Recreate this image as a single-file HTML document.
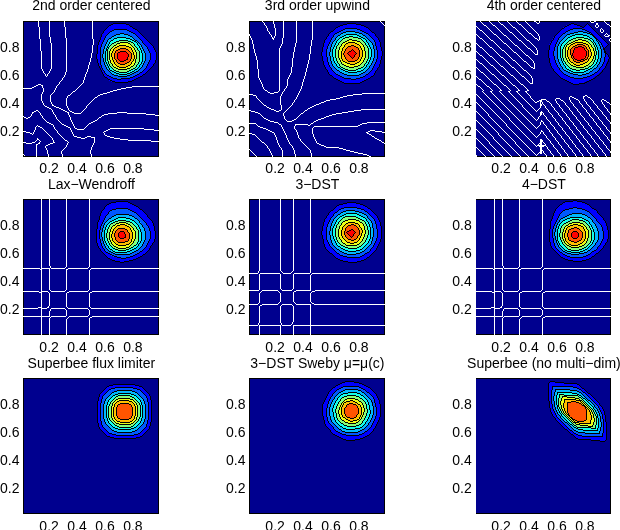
<!DOCTYPE html>
<html><head><meta charset="utf-8"><title>Advection schemes</title>
<style>
html,body{margin:0;padding:0;background:#fff;}
body{width:620px;height:530px;overflow:hidden;}
svg{display:block;}
text{font-family:"Liberation Sans",sans-serif;font-size:14.0px;fill:#000;}
</style></head>
<body>
<svg width="620" height="530" viewBox="0 0 620 530">
<defs><filter id="gray" filterUnits="userSpaceOnUse" x="0" y="0" width="620" height="530"><feOffset dx="0" dy="0"/></filter><clipPath id="clip0"><rect x="-0.5" y="-0.5" width="136" height="136"/></clipPath><clipPath id="clip1"><rect x="-0.5" y="-0.5" width="136" height="136"/></clipPath><clipPath id="clip2"><rect x="-0.5" y="-0.5" width="135" height="136"/></clipPath></defs>
<rect width="620" height="530" fill="#fff"/>
<g transform="translate(23.5,21.5)">
<rect x="0" y="0" width="135" height="135" fill="#00008f"/>
<g clip-path="url(#clip0)" shape-rendering="crispEdges">
<path d="M96.5,1.5 L101.0,2.1 L105.3,3.4 L109.3,5.6 L112.9,8.3 L116.2,11.3 L119.5,14.5 L122.7,17.6 L125.8,20.8 L128.7,24.3 L131.0,28.2 L132.6,32.4 L132.9,36.9 L131.5,41.2 L128.8,44.8 L125.8,48.2 L122.5,51.3 L119.0,54.0 L115.1,56.4 L111.0,58.3 L106.7,59.7 L102.3,60.5 L97.8,61.0 L93.2,61.1 L88.8,60.4 L84.7,58.5 L81.5,55.3 L79.0,51.5 L77.0,47.5 L75.1,43.4 L73.9,39.0 L73.5,34.5 L73.8,30.0 L74.4,25.6 L75.3,21.2 L76.6,16.8 L78.4,12.7 L80.9,8.9 L83.9,5.6 L87.6,3.0 L91.9,1.7Z" fill="#0000ff"/>
<path d="M98.0,8.0 L102.6,8.4 L106.8,9.7 L110.6,12.0 L114.0,15.0 L117.2,18.2 L120.1,21.6 L123.0,25.1 L125.2,28.9 L126.7,33.2 L126.9,37.7 L125.4,41.9 L123.0,45.7 L119.9,49.0 L116.4,51.8 L112.5,54.1 L108.4,55.9 L104.1,57.0 L99.6,57.4 L95.1,57.6 L90.6,57.0 L86.5,55.3 L82.9,52.6 L80.2,49.0 L78.1,45.0 L76.9,40.7 L76.5,36.2 L76.6,31.7 L77.2,27.3 L78.2,22.9 L79.8,18.7 L82.2,14.9 L85.3,11.6 L89.0,9.3 L93.4,8.2Z" fill="#0058ff"/>
<path d="M120.5,28.4 L118.0,24.2 L114.9,20.7 L111.5,17.6 L107.6,15.0 L103.1,13.2 L98.3,12.5 L93.5,13.2 L89.1,15.2 L85.5,18.2 L82.7,21.9 L80.8,26.0 L79.8,30.3 L79.5,34.5 L79.8,38.7 L80.9,42.8 L82.8,46.7 L85.6,50.0 L89.1,52.6 L93.1,54.2 L97.4,55.0 L101.7,54.8 L106.0,53.9 L110.0,52.2 L113.8,49.8 L117.3,46.6 L120.0,42.7 L121.7,38.0 L121.9,33.1Z" fill="#00b8ff"/>
<path d="M117.9,29.2 L115.6,25.0 L112.6,21.5 L109.0,18.6 L104.8,16.5 L100.2,15.6 L95.5,15.9 L91.2,17.5 L87.4,20.2 L84.6,23.6 L82.6,27.6 L81.7,31.8 L81.5,36.0 L82.2,40.2 L83.8,44.2 L86.3,47.6 L89.7,50.4 L93.6,52.2 L97.9,53.0 L102.2,52.8 L106.4,51.6 L110.4,49.6 L113.9,46.7 L116.7,43.0 L118.5,38.6 L119.0,33.8Z" fill="#14ffeb"/>
<path d="M115.6,29.9 L113.4,25.7 L110.2,22.3 L106.3,19.9 L101.9,18.7 L97.4,18.6 L93.1,19.8 L89.4,22.1 L86.4,25.3 L84.5,29.1 L83.6,33.3 L83.7,37.5 L84.9,41.6 L87.1,45.2 L90.2,48.2 L94.1,50.1 L98.3,51.0 L102.7,50.7 L106.9,49.3 L110.7,46.9 L113.8,43.5 L115.8,39.2 L116.5,34.5Z" fill="#87ff78"/>
<path d="M112.8,30.7 L110.6,26.6 L107.1,23.4 L102.9,21.5 L98.3,21.0 L93.8,22.1 L90.0,24.6 L87.2,28.1 L85.7,32.4 L85.6,36.8 L86.9,41.1 L89.6,44.6 L93.2,47.2 L97.5,48.4 L101.9,48.3 L106.2,46.8 L109.8,44.0 L112.4,40.1 L113.5,35.4Z" fill="#ebff14"/>
<path d="M110.4,31.5 L108.1,27.5 L104.4,24.7 L100.1,23.5 L95.6,24.1 L91.8,26.3 L89.2,29.8 L88.0,34.0 L88.5,38.2 L90.5,42.0 L93.9,44.7 L98.0,45.9 L102.3,45.6 L106.3,43.8 L109.4,40.5 L110.9,36.1Z" fill="#ffbf00"/>
<path d="M107.6,32.4 L104.9,28.6 L100.9,26.7 L96.5,27.0 L93.0,29.4 L91.2,33.2 L91.4,37.4 L93.6,40.9 L97.2,42.8 L101.4,42.8 L105.2,40.8 L107.7,37.0Z" fill="#ff5500"/>
<path d="M104.5,33.3 L101.6,30.1 L97.4,29.8 L94.1,32.4 L93.8,36.6 L96.6,39.5 L100.5,39.8 L103.9,37.6Z" fill="#ff0000"/>









</g>
<rect x="0" y="0" width="135" height="135" fill="none" stroke="#000" stroke-width="1" shape-rendering="crispEdges"/>
</g>
<path transform="translate(23,21.5)" d="M90 2h13M88 3h2M103 3h3M86 4h2M106 4h1M85 5h1M107 5h2M84 6h1M109 6h1M83 7h1M110 7h2M82 8h1M91 8h13M112 8h2M81 9h1M89 9h2M104 9h2M114 9h1M80 10h1M87 10h2M106 10h2M115 10h1M80 11h1M86 11h1M108 11h2M116 11h1M79 12h1M85 12h1M97 12h4M110 12h2M117 12h1M78 13h1M84 13h1M93 13h4M101 13h4M112 13h1M118 13h1M78 14h1M83 14h1M91 14h2M105 14h2M113 14h1M119 14h1M78 15h1M82 15h1M89 15h2M107 15h2M114 15h1M120 15h1M77 16h1M82 16h1M88 16h1M94 16h9M109 16h1M115 16h1M121 16h1M77 17h1M81 17h1M86 17h2M91 17h3M103 17h4M110 17h1M116 17h1M122 17h1M77 18h1M81 18h1M85 18h1M90 18h1M107 18h2M111 18h1M117 18h1M123 18h1M76 19h1M80 19h1M84 19h1M88 19h2M96 19h9M109 19h2M112 19h2M118 19h1M124 19h1M76 20h1M80 20h1M84 20h1M87 20h1M93 20h3M105 20h3M111 20h2M114 20h1M119 20h1M125 20h1M75 21h1M79 21h1M83 21h1M86 21h1M91 21h2M97 21h8M108 21h2M113 21h1M115 21h1M119 21h1M126 21h1M75 22h1M79 22h1M83 22h1M86 22h1M89 22h2M94 22h3M105 22h2M110 22h1M114 22h1M116 22h1M120 22h1M127 22h1M75 23h1M78 23h1M82 23h1M85 23h1M88 23h1M93 23h1M107 23h1M111 23h1M114 23h1M117 23h1M121 23h1M128 23h1M74 24h1M78 24h1M82 24h1M85 24h1M87 24h1M91 24h2M96 24h7M108 24h1M111 24h1M115 24h1M118 24h1M122 24h1M129 24h1M74 25h1M78 25h1M81 25h1M84 25h1M86 25h1M90 25h1M94 25h2M103 25h3M109 25h1M112 25h1M116 25h1M118 25h1M123 25h1M130 25h1M74 26h1M77 26h1M81 26h1M84 26h2M89 26h1M92 26h2M106 26h2M110 26h1M113 26h1M116 26h1M119 26h1M124 26h1M130 26h1M74 27h1M77 27h1M81 27h1M83 27h1M85 27h1M88 27h1M91 27h1M97 27h6M108 27h1M111 27h1M114 27h1M117 27h1M119 27h1M124 27h1M131 27h1M74 28h1M77 28h1M80 28h1M83 28h2M87 28h1M90 28h1M95 28h2M103 28h2M108 28h1M111 28h1M114 28h1M117 28h1M120 28h1M125 28h1M131 28h1M74 29h1M77 29h1M80 29h1M83 29h2M87 29h1M90 29h1M93 29h2M105 29h1M109 29h1M112 29h1M115 29h1M118 29h1M120 29h1M125 29h1M132 29h1M74 30h1M77 30h1M80 30h1M82 30h1M84 30h1M86 30h1M89 30h1M92 30h1M97 30h6M106 30h1M109 30h1M112 30h1M116 30h1M118 30h1M121 30h1M126 30h1M132 30h1M74 31h1M77 31h1M80 31h1M82 31h1M84 31h1M86 31h1M89 31h1M92 31h1M95 31h2M103 31h1M107 31h1M110 31h1M113 31h1M116 31h1M118 31h1M121 31h1M126 31h1M133 31h1M74 32h1M77 32h1M80 32h1M82 32h1M84 32h1M86 32h1M88 32h1M91 32h1M94 32h1M104 32h1M108 32h1M110 32h1M113 32h1M116 32h1M119 32h1M122 32h1M127 32h1M133 32h1M73 33h1M77 33h1M79 33h1M82 33h1M84 33h1M86 33h1M88 33h1M91 33h1M94 33h1M105 33h1M108 33h1M110 33h1M113 33h1M116 33h1M119 33h1M122 33h1M127 33h1M133 33h1M73 34h1M77 34h1M79 34h1M82 34h1M84 34h1M86 34h1M88 34h1M91 34h1M94 34h1M105 34h1M108 34h1M111 34h1M113 34h1M116 34h1M119 34h1M122 34h1M127 34h1M133 34h1M73 35h1M77 35h1M79 35h1M82 35h1M84 35h1M86 35h1M88 35h1M91 35h1M94 35h1M105 35h1M108 35h1M111 35h1M113 35h1M116 35h1M119 35h1M122 35h1M127 35h1M133 35h1M73 36h1M77 36h1M79 36h1M82 36h1M84 36h1M86 36h1M89 36h1M91 36h1M94 36h1M104 36h1M108 36h1M111 36h1M113 36h1M116 36h1M119 36h1M122 36h1M127 36h1M133 36h1M73 37h1M77 37h1M80 37h1M82 37h1M84 37h1M86 37h1M89 37h1M91 37h1M94 37h1M104 37h1M108 37h1M111 37h1M113 37h1M116 37h1M119 37h1M122 37h1M127 37h1M133 37h1M74 38h1M77 38h1M80 38h1M82 38h1M84 38h1M86 38h1M89 38h1M92 38h1M95 38h1M103 38h2M107 38h1M110 38h1M112 38h1M116 38h1M119 38h1M122 38h1M127 38h1M133 38h1M74 39h1M77 39h1M80 39h1M82 39h1M84 39h1M87 39h1M90 39h1M93 39h1M96 39h1M101 39h2M107 39h1M110 39h1M112 39h1M116 39h1M119 39h1M122 39h1M126 39h1M132 39h1M74 40h1M77 40h1M80 40h1M82 40h1M85 40h1M87 40h1M90 40h1M93 40h1M97 40h4M106 40h1M109 40h1M112 40h1M116 40h1M119 40h1M121 40h1M126 40h1M132 40h1M74 41h1M77 41h1M81 41h1M83 41h1M85 41h1M87 41h1M91 41h1M94 41h1M104 41h2M108 41h1M112 41h1M115 41h1M118 41h1M121 41h1M125 41h1M132 41h1M75 42h1M77 42h1M81 42h1M83 42h1M85 42h1M88 42h1M91 42h1M95 42h2M102 42h2M108 42h1M111 42h1M115 42h1M118 42h1M120 42h1M125 42h1M131 42h1M75 43h1M77 43h1M81 43h1M84 43h1M86 43h1M89 43h1M92 43h1M97 43h5M107 43h1M111 43h1M114 43h1M117 43h1M120 43h1M124 43h1M130 43h1M75 44h1M78 44h1M82 44h1M84 44h1M86 44h1M89 44h1M93 44h1M105 44h2M110 44h1M113 44h1M116 44h1M119 44h1M124 44h1M130 44h1M76 45h1M78 45h1M82 45h1M85 45h1M87 45h1M90 45h1M94 45h2M103 45h2M108 45h2M113 45h1M116 45h1M119 45h1M123 45h1M129 45h1M76 46h1M78 46h1M83 46h1M85 46h1M88 46h1M91 46h2M96 46h7M107 46h1M112 46h1M115 46h1M118 46h1M123 46h1M128 46h1M77 47h1M79 47h1M83 47h1M86 47h1M89 47h1M93 47h2M104 47h3M110 47h2M114 47h1M117 47h1M122 47h1M127 47h1M77 48h1M79 48h1M84 48h1M86 48h1M90 48h1M95 48h9M108 48h2M112 48h2M116 48h1M121 48h1M126 48h1M78 49h1M80 49h1M85 49h1M87 49h2M91 49h2M106 49h2M111 49h1M115 49h1M120 49h1M125 49h1M78 50h1M81 50h1M86 50h1M89 50h2M93 50h3M104 50h2M109 50h2M113 50h2M119 50h1M124 50h1M79 51h1M81 51h1M87 51h1M91 51h2M96 51h8M107 51h2M111 51h2M117 51h2M123 51h1M79 52h1M82 52h1M88 52h1M93 52h3M104 52h3M109 52h2M116 52h1M122 52h1M80 53h1M83 53h1M89 53h2M96 53h8M107 53h2M114 53h2M120 53h2M80 54h1M84 54h2M91 54h4M104 54h3M112 54h2M119 54h1M81 55h1M86 55h2M95 55h9M110 55h2M117 55h2M82 56h2M88 56h2M107 56h3M115 56h2M84 57h1M90 57h4M98 57h9M113 57h2M85 58h2M94 58h4M111 58h2M87 59h2M109 59h2M89 60h3M105 60h4M92 61h13" fill="none" stroke="#000" stroke-width="1" shape-rendering="crispEdges"/>
<path transform="translate(23,21.5)" d="M15 0h1M26 0h1M41 0h1M69 0h1M15 1h1M26 1h1M41 1h1M69 1h1M15 2h1M26 2h1M41 2h1M69 2h1M15 3h1M26 3h1M41 3h1M69 3h1M15 4h1M26 4h1M41 4h1M69 4h1M15 5h1M26 5h1M41 5h1M69 5h1M16 6h1M26 6h1M42 6h1M69 6h1M16 7h1M26 7h1M42 7h1M69 7h1M16 8h1M26 8h1M42 8h1M69 8h1M16 9h1M26 9h1M42 9h1M69 9h1M16 10h1M26 10h1M42 10h1M69 10h1M16 11h1M26 11h1M42 11h1M69 11h1M16 12h1M26 12h1M42 12h1M69 12h1M16 13h1M26 13h1M42 13h1M69 13h1M16 14h1M26 14h1M42 14h1M69 14h1M16 15h1M26 15h1M42 15h1M69 15h1M16 16h1M27 16h1M42 16h1M69 16h1M16 17h1M27 17h1M43 17h1M69 17h1M17 18h1M27 18h1M43 18h1M70 18h1M17 19h1M27 19h1M43 19h1M70 19h1M17 20h1M27 20h1M43 20h1M70 20h1M17 21h1M27 21h1M43 21h1M70 21h1M17 22h1M28 22h1M43 22h1M70 22h1M17 23h1M28 23h1M43 23h1M70 23h1M17 24h1M28 24h1M43 24h1M69 24h1M17 25h1M28 25h1M43 25h1M69 25h1M17 26h1M28 26h1M43 26h1M69 26h1M17 27h1M28 27h1M43 27h1M69 27h1M17 28h1M28 28h1M43 28h1M69 28h1M17 29h1M28 29h1M43 29h1M69 29h1M18 30h1M28 30h1M43 30h1M69 30h1M18 31h1M28 31h1M43 31h1M69 31h1M18 32h1M28 32h1M43 32h1M68 32h1M18 33h1M28 33h1M43 33h1M68 33h1M18 34h1M28 34h1M43 34h1M68 34h1M18 35h1M28 35h1M43 35h1M68 35h1M18 36h1M28 36h1M43 36h1M68 36h1M18 37h1M28 37h1M43 37h1M67 37h1M18 38h1M28 38h1M43 38h1M67 38h1M18 39h1M28 39h1M43 39h1M67 39h1M18 40h1M28 40h1M43 40h1M67 40h1M18 41h1M28 41h1M43 41h1M66 41h1M18 42h1M28 42h1M43 42h1M66 42h1M18 43h1M28 43h1M43 43h1M66 43h1M18 44h1M28 44h1M43 44h1M65 44h1M18 45h1M28 45h1M43 45h1M65 45h1M18 46h1M28 46h1M43 46h1M65 46h1M18 47h1M28 47h1M43 47h1M65 47h1M19 48h1M27 48h1M43 48h1M64 48h1M19 49h1M27 49h1M43 49h1M64 49h1M20 50h1M26 50h1M43 50h1M64 50h1M20 51h1M26 51h1M42 51h1M63 51h1M21 52h1M25 52h1M42 52h1M63 52h1M22 53h1M24 53h1M42 53h1M62 53h1M22 54h1M24 54h1M41 54h1M62 54h1M23 55h1M41 55h1M62 55h1M40 56h1M61 56h1M39 57h1M61 57h1M39 58h1M61 58h1M38 59h1M60 59h1M37 60h1M60 60h1M36 61h1M60 61h1M36 62h1M59 62h1M15 63h3M35 63h1M58 63h1M13 64h2M18 64h2M34 64h1M57 64h1M11 65h2M19 65h1M33 65h1M56 65h1M109 65h27M9 66h2M19 66h1M33 66h1M55 66h1M103 66h6M0 67h9M20 67h1M32 67h1M54 67h1M98 67h5M20 68h1M32 68h1M53 68h1M94 68h4M20 69h1M31 69h1M52 69h1M90 69h4M20 70h1M31 70h1M50 70h2M87 70h3M19 71h1M30 71h1M49 71h1M84 71h3M19 72h1M29 72h1M48 72h1M80 72h4M18 73h1M28 73h1M47 73h1M77 73h3M18 74h1M27 74h1M45 74h2M75 74h2M18 75h1M27 75h1M44 75h1M74 75h1M18 76h1M27 76h1M44 76h1M72 76h2M18 77h1M27 77h1M43 77h1M71 77h1M18 78h1M27 78h1M43 78h1M70 78h1M18 79h1M27 79h1M43 79h1M69 79h1M19 80h1M27 80h1M43 80h1M68 80h1M19 81h1M28 81h1M43 81h1M67 81h1M20 82h1M28 82h1M43 82h1M66 82h1M20 83h1M29 83h1M43 83h1M65 83h1M21 84h1M29 84h2M43 84h1M64 84h1M22 85h2M31 85h2M44 85h1M63 85h1M24 86h2M33 86h3M44 86h1M63 86h1M26 87h2M36 87h2M45 87h1M62 87h1M28 88h1M38 88h2M45 88h1M61 88h1M13 89h2M29 89h1M40 89h2M46 89h1M60 89h1M11 90h2M15 90h1M29 90h1M42 90h2M47 90h2M59 90h1M9 91h2M16 91h1M30 91h1M44 91h2M49 91h2M58 91h1M94 91h10M9 92h1M17 92h1M30 92h1M45 92h1M51 92h7M85 92h9M104 92h19M8 93h1M17 93h1M31 93h1M45 93h1M81 93h4M123 93h9M8 94h1M18 94h1M32 94h1M46 94h1M79 94h2M132 94h4M0 95h1M7 95h1M19 95h1M32 95h1M46 95h1M78 95h1M1 96h2M5 96h2M19 96h1M33 96h1M47 96h1M76 96h2M3 97h2M20 97h1M33 97h1M47 97h1M75 97h1M21 98h1M34 98h1M47 98h1M74 98h1M22 99h1M35 99h1M48 99h1M72 99h2M23 100h1M36 100h1M48 100h1M70 100h2M24 101h2M37 101h1M49 101h1M68 101h2M26 102h2M38 102h1M49 102h1M66 102h2M28 103h2M39 103h2M50 103h1M65 103h1M14 104h1M30 104h1M41 104h2M50 104h1M64 104h1M13 105h1M15 105h2M30 105h1M43 105h2M51 105h1M63 105h1M12 106h1M17 106h2M31 106h1M45 106h2M51 106h1M62 106h1M12 107h1M19 107h1M31 107h1M47 107h1M52 107h2M61 107h1M87 107h34M12 108h1M20 108h1M32 108h1M47 108h1M54 108h7M85 108h2M121 108h10M11 109h1M21 109h1M33 109h1M48 109h1M83 109h2M131 109h5M0 110h3M11 110h1M22 110h1M34 110h1M48 110h1M81 110h2M3 111h4M10 111h1M23 111h1M34 111h1M49 111h1M80 111h1M7 112h2M10 112h1M24 112h1M35 112h1M49 112h1M81 112h1M9 113h1M25 113h1M36 113h1M50 113h1M81 113h1M26 114h1M37 114h1M50 114h1M82 114h2M27 115h1M38 115h1M51 115h3M64 115h4M84 115h3M28 116h1M39 116h1M54 116h4M62 116h2M68 116h4M87 116h4M14 117h1M29 117h1M40 117h1M58 117h4M71 117h1M91 117h6M14 118h2M29 118h1M41 118h1M71 118h1M97 118h8M13 119h1M16 119h1M30 119h1M42 119h2M71 119h1M105 119h23M12 120h1M17 120h1M30 120h1M44 120h1M71 120h1M128 120h8M0 121h3M9 121h3M16 121h1M30 121h2M45 121h1M71 121h1M3 122h6M15 122h2M27 122h3M44 122h1M70 122h1M13 123h2M25 123h2M44 123h1M70 123h1M13 124h1M23 124h2M43 124h1M69 124h1M13 125h1M22 125h1M43 125h1M69 125h1M13 126h1M22 126h1M42 126h1M68 126h1M13 127h1M23 127h1M41 127h1M68 127h1M13 128h1M23 128h1M40 128h1M68 128h1M13 129h1M24 129h1M39 129h1M67 129h1M13 130h1M24 130h1M38 130h1M67 130h1M13 131h1M24 131h1M38 131h1M67 131h1M13 132h1M24 132h1M38 132h1M67 132h1M0 133h1M13 133h1M25 133h1M39 133h1M68 133h1M1 134h1M13 134h1M25 134h1M39 134h1M68 134h1M13 135h1M25 135h1M39 135h1M68 135h1" fill="none" stroke="#fff" stroke-width="1" shape-rendering="crispEdges"/>
<g transform="translate(249.5,21.5)">
<rect x="0" y="0" width="135" height="135" fill="#00008f"/>
<g clip-path="url(#clip1)" shape-rendering="crispEdges">
<path d="M131.3,41.1 L129.6,45.3 L127.4,49.2 L124.5,52.7 L121.2,55.7 L117.5,58.3 L113.5,60.2 L109.2,61.6 L104.7,62.2 L100.2,62.2 L95.8,61.5 L91.5,60.2 L87.4,58.3 L83.7,55.7 L80.4,52.7 L77.6,49.1 L75.4,45.2 L73.7,41.0 L72.7,36.7 L72.4,32.2 L72.7,27.7 L73.7,23.3 L75.4,19.1 L77.6,15.2 L80.5,11.7 L83.8,8.7 L87.5,6.1 L91.5,4.2 L95.8,2.8 L100.3,2.2 L104.8,2.2 L109.2,2.9 L113.5,4.2 L117.6,6.1 L121.3,8.7 L124.6,11.7 L127.4,15.3 L129.6,19.2 L131.3,23.4 L132.3,27.7 L132.6,32.2 L132.3,36.7Z" fill="#0000ff"/>
<path d="M126.9,39.7 L125.2,43.9 L122.8,47.6 L119.8,50.9 L116.3,53.6 L112.4,55.7 L108.2,57.1 L103.8,57.7 L99.3,57.5 L95.0,56.6 L90.8,54.9 L87.1,52.5 L83.8,49.5 L81.1,46.0 L79.0,42.1 L77.6,37.9 L77.0,33.5 L77.2,29.0 L78.1,24.7 L79.8,20.5 L82.2,16.8 L85.2,13.5 L88.7,10.8 L92.6,8.7 L96.8,7.3 L101.2,6.7 L105.7,6.9 L110.0,7.8 L114.2,9.5 L117.9,11.9 L121.2,14.9 L123.9,18.4 L126.0,22.3 L127.4,26.5 L128.0,30.9 L127.8,35.4Z" fill="#0058ff"/>
<path d="M123.8,38.8 L122.0,42.9 L119.5,46.7 L116.2,49.8 L112.4,52.2 L108.2,53.8 L103.7,54.5 L99.2,54.3 L94.8,53.1 L90.8,51.2 L87.2,48.4 L84.2,45.0 L82.0,41.1 L80.7,36.8 L80.2,32.3 L80.6,27.8 L82.0,23.5 L84.1,19.5 L87.1,16.1 L90.6,13.3 L94.7,11.3 L99.0,10.2 L103.5,9.9 L108.0,10.6 L112.2,12.1 L116.1,14.5 L119.4,17.6 L122.0,21.3 L123.8,25.4 L124.7,29.9 L124.7,34.4Z" fill="#00b8ff"/>
<path d="M121.0,37.9 L119.2,42.1 L116.5,45.6 L113.0,48.5 L109.0,50.5 L104.6,51.5 L100.1,51.4 L95.7,50.4 L91.7,48.3 L88.3,45.4 L85.6,41.7 L83.9,37.6 L83.1,33.2 L83.4,28.7 L84.8,24.4 L87.0,20.5 L90.2,17.2 L94.0,14.8 L98.2,13.3 L102.7,12.8 L107.1,13.4 L111.4,14.9 L115.1,17.5 L118.2,20.8 L120.4,24.7 L121.6,29.0 L121.9,33.5Z" fill="#14ffeb"/>
<path d="M118.5,37.2 L116.6,41.3 L113.6,44.8 L109.8,47.3 L105.5,48.7 L100.9,48.9 L96.5,47.9 L92.4,45.7 L89.2,42.4 L86.9,38.5 L85.8,34.0 L85.9,29.5 L87.3,25.1 L89.8,21.3 L93.2,18.2 L97.3,16.2 L101.8,15.4 L106.4,15.8 L110.6,17.5 L114.3,20.2 L117.1,23.9 L118.8,28.1 L119.3,32.7Z" fill="#87ff78"/>
<path d="M115.7,36.3 L113.6,40.3 L110.4,43.5 L106.3,45.5 L101.8,46.0 L97.3,45.0 L93.5,42.6 L90.6,39.1 L89.0,34.9 L88.8,30.3 L90.2,26.0 L92.8,22.3 L96.6,19.7 L100.9,18.5 L105.5,18.7 L109.7,20.4 L113.1,23.4 L115.4,27.3 L116.3,31.8Z" fill="#ebff14"/>
<path d="M113.0,35.5 L110.8,39.4 L107.1,42.2 L102.7,43.2 L98.2,42.3 L94.4,39.7 L92.1,35.7 L91.5,31.2 L92.9,26.8 L95.9,23.4 L100.1,21.5 L104.6,21.4 L108.8,23.2 L111.9,26.6 L113.4,30.9Z" fill="#ffbf00"/>
<path d="M110.3,34.6 L107.8,38.5 L103.5,40.3 L99.0,39.6 L95.5,36.5 L94.3,32.1 L95.7,27.7 L99.2,24.7 L103.8,24.1 L108.0,26.1 L110.4,30.0Z" fill="#ff5500"/>
<path d="M98.3,32.2 L102.5,27.5 L107.1,32.0 L102.5,36.5Z" fill="#ff0000"/>













</g>
<rect x="0" y="0" width="135" height="135" fill="none" stroke="#000" stroke-width="1" shape-rendering="crispEdges"/>
</g>
<path transform="translate(249,21.5)" d="M98 2h9M94 3h4M107 3h5M91 4h3M112 4h3M89 5h2M115 5h2M87 6h2M117 6h2M86 7h1M96 7h12M119 7h1M85 8h1M94 8h2M108 8h3M120 8h1M84 9h1M92 9h2M111 9h2M121 9h1M82 10h2M90 10h2M97 10h9M113 10h2M122 10h1M81 11h1M88 11h2M94 11h3M106 11h4M115 11h2M123 11h2M80 12h1M86 12h2M92 12h2M110 12h3M117 12h2M125 12h1M79 13h1M85 13h1M91 13h1M97 13h11M113 13h1M119 13h1M126 13h1M79 14h1M84 14h1M89 14h2M95 14h2M108 14h2M114 14h2M120 14h1M126 14h1M78 15h1M84 15h1M88 15h1M93 15h2M100 15h4M110 15h2M116 15h1M121 15h1M127 15h1M77 16h1M83 16h1M87 16h1M91 16h2M96 16h4M104 16h5M112 16h2M117 16h1M122 16h1M128 16h1M77 17h1M82 17h1M86 17h1M90 17h1M94 17h2M109 17h3M114 17h2M118 17h1M123 17h1M129 17h1M76 18h1M82 18h1M86 18h1M89 18h1M93 18h1M100 18h3M112 18h1M116 18h1M119 18h1M124 18h1M129 18h1M75 19h1M81 19h1M85 19h1M88 19h1M92 19h1M98 19h2M103 19h5M113 19h1M117 19h1M120 19h1M125 19h1M130 19h1M75 20h1M81 20h1M84 20h1M87 20h1M91 20h1M96 20h2M108 20h3M114 20h1M117 20h1M121 20h1M125 20h1M130 20h1M75 21h1M80 21h1M83 21h1M87 21h1M90 21h1M94 21h2M99 21h7M111 21h1M115 21h1M118 21h1M122 21h1M126 21h1M131 21h1M74 22h1M80 22h1M83 22h1M86 22h1M89 22h1M93 22h1M97 22h2M106 22h2M112 22h1M116 22h1M119 22h1M123 22h1M126 22h1M131 22h1M74 23h1M79 23h1M82 23h1M86 23h1M89 23h1M92 23h1M96 23h1M108 23h2M113 23h1M116 23h1M119 23h1M123 23h1M126 23h1M131 23h1M74 24h1M79 24h1M82 24h1M85 24h1M88 24h1M92 24h1M95 24h1M102 24h3M110 24h1M114 24h1M117 24h1M120 24h1M124 24h1M126 24h1M131 24h1M74 25h1M78 25h1M82 25h1M85 25h1M87 25h1M91 25h1M95 25h1M99 25h3M105 25h2M111 25h1M114 25h1M118 25h1M120 25h1M124 25h1M127 25h1M131 25h1M73 26h1M78 26h1M81 26h1M84 26h1M87 26h1M90 26h1M94 26h1M98 26h1M107 26h2M111 26h1M115 26h1M118 26h1M121 26h1M124 26h1M127 26h1M132 26h1M73 27h1M78 27h1M81 27h1M84 27h1M87 27h1M90 27h1M93 27h1M97 27h1M109 27h1M112 27h1M115 27h1M119 27h1M121 27h1M124 27h1M127 27h1M132 27h1M73 28h1M77 28h1M81 28h1M83 28h1M86 28h1M90 28h1M93 28h1M96 28h1M103 28h1M109 28h1M112 28h1M115 28h1M119 28h1M122 28h1M125 28h1M127 28h1M132 28h1M73 29h1M77 29h1M81 29h1M83 29h1M86 29h1M89 29h1M93 29h1M96 29h1M102 29h1M104 29h1M110 29h1M113 29h1M115 29h1M119 29h1M122 29h1M125 29h1M128 29h1M132 29h1M73 30h1M77 30h1M81 30h1M83 30h1M86 30h1M89 30h1M92 30h1M95 30h1M100 30h2M105 30h1M110 30h1M113 30h1M116 30h1M119 30h1M122 30h1M125 30h1M128 30h1M133 30h1M72 31h1M77 31h1M80 31h1M83 31h1M86 31h1M89 31h1M92 31h1M95 31h1M99 31h1M106 31h1M110 31h1M113 31h1M116 31h1M119 31h1M122 31h1M125 31h1M128 31h1M133 31h1M72 32h1M77 32h1M80 32h1M83 32h1M86 32h1M89 32h1M92 32h1M94 32h1M98 32h1M107 32h1M110 32h1M113 32h1M116 32h1M119 32h1M122 32h1M125 32h1M128 32h1M133 32h1M72 33h1M77 33h1M80 33h1M83 33h1M86 33h1M89 33h1M92 33h1M94 33h1M99 33h1M106 33h1M110 33h1M113 33h1M116 33h1M119 33h1M122 33h1M125 33h1M128 33h1M133 33h1M72 34h1M77 34h1M80 34h1M83 34h1M86 34h1M89 34h1M92 34h1M95 34h1M100 34h1M105 34h1M110 34h1M113 34h1M116 34h1M119 34h1M122 34h1M125 34h1M128 34h1M133 34h1M73 35h1M77 35h1M81 35h1M83 35h1M86 35h1M89 35h1M92 35h1M95 35h1M101 35h1M105 35h1M110 35h1M113 35h1M116 35h1M119 35h1M122 35h1M125 35h1M128 35h1M132 35h1M73 36h1M78 36h1M81 36h1M84 36h1M86 36h1M89 36h1M92 36h1M96 36h1M102 36h1M104 36h1M109 36h1M112 36h1M116 36h1M119 36h1M121 36h1M125 36h1M128 36h1M132 36h1M73 37h1M78 37h1M81 37h1M84 37h1M87 37h1M90 37h1M92 37h1M96 37h1M103 37h1M109 37h1M112 37h1M115 37h1M119 37h1M121 37h1M124 37h1M128 37h1M132 37h1M73 38h1M78 38h1M81 38h1M84 38h1M87 38h1M90 38h1M93 38h1M97 38h1M108 38h1M111 38h1M115 38h1M118 38h1M121 38h1M124 38h1M127 38h1M132 38h1M73 39h1M78 39h1M81 39h1M84 39h1M87 39h1M91 39h1M93 39h1M98 39h1M106 39h2M111 39h1M114 39h1M118 39h1M120 39h1M124 39h1M127 39h1M131 39h1M74 40h1M78 40h1M82 40h1M85 40h1M88 40h1M91 40h1M94 40h2M99 40h7M110 40h1M114 40h1M117 40h1M120 40h1M123 40h1M127 40h1M131 40h1M74 41h1M79 41h1M82 41h1M85 41h1M88 41h1M92 41h1M96 41h2M108 41h2M113 41h1M117 41h1M119 41h1M123 41h1M126 41h1M131 41h1M74 42h1M79 42h1M82 42h1M86 42h1M89 42h1M92 42h1M98 42h3M106 42h2M112 42h1M116 42h1M119 42h1M122 42h1M126 42h1M131 42h1M74 43h1M79 43h1M83 43h1M87 43h1M90 43h1M93 43h2M101 43h5M111 43h1M115 43h1M118 43h1M122 43h1M125 43h1M130 43h1M75 44h1M80 44h1M83 44h1M87 44h1M90 44h1M95 44h2M109 44h2M115 44h1M117 44h1M121 44h1M125 44h1M130 44h1M75 45h1M80 45h1M84 45h1M88 45h1M91 45h1M97 45h3M105 45h4M114 45h1M117 45h1M120 45h1M124 45h1M130 45h1M76 46h1M81 46h1M85 46h1M89 46h2M92 46h2M100 46h5M112 46h2M116 46h1M120 46h1M124 46h1M129 46h1M76 47h1M82 47h1M86 47h1M91 47h1M94 47h2M109 47h3M115 47h1M119 47h1M123 47h1M128 47h1M77 48h1M82 48h1M87 48h1M92 48h2M96 48h3M107 48h2M114 48h1M118 48h1M123 48h1M128 48h1M78 49h1M83 49h1M88 49h2M94 49h2M99 49h8M112 49h2M117 49h1M122 49h1M127 49h1M78 50h1M84 50h1M90 50h1M96 50h3M108 50h4M116 50h1M121 50h1M126 50h1M79 51h1M85 51h1M91 51h2M99 51h9M114 51h2M120 51h1M126 51h1M79 52h1M86 52h1M93 52h2M112 52h2M119 52h1M125 52h1M80 53h1M87 53h2M95 53h3M110 53h2M117 53h2M125 53h1M81 54h2M89 54h2M98 54h12M116 54h1M124 54h1M83 55h1M91 55h2M114 55h2M122 55h2M84 56h1M93 56h2M111 56h3M121 56h1M85 57h2M95 57h7M107 57h4M119 57h2M87 58h2M102 58h5M117 58h2M89 59h2M115 59h2M91 60h2M113 60h2M93 61h2M111 61h2M95 62h16" fill="none" stroke="#000" stroke-width="1" shape-rendering="crispEdges"/>
<path transform="translate(249,21.5)" d="M13 0h1M24 0h1M34 0h1M47 0h1M63 0h1M131 0h1M14 1h1M24 1h1M34 1h1M47 1h1M63 1h1M132 1h1M15 2h1M24 2h1M34 2h1M47 2h1M63 2h1M133 2h1M15 3h1M25 3h1M34 3h1M47 3h1M63 3h1M134 3h1M16 4h1M25 4h1M34 4h1M47 4h1M63 4h1M135 4h1M17 5h1M25 5h1M34 5h1M47 5h1M63 5h1M17 6h1M25 6h1M34 6h1M47 6h1M63 6h1M18 7h1M26 7h1M34 7h1M47 7h1M63 7h1M18 8h1M26 8h1M34 8h1M47 8h1M63 8h1M18 9h1M26 9h1M34 9h1M47 9h1M63 9h1M19 10h1M26 10h1M34 10h1M47 10h1M63 10h1M20 11h1M26 11h1M34 11h1M47 11h1M63 11h1M20 12h1M26 12h1M34 12h1M47 12h1M63 12h1M0 13h1M21 13h1M26 13h1M34 13h1M47 13h1M63 13h1M0 14h1M22 14h1M26 14h1M34 14h1M47 14h1M63 14h1M1 15h1M22 15h1M25 15h1M34 15h1M47 15h1M63 15h1M1 16h1M23 16h1M25 16h1M34 16h1M47 16h1M63 16h1M2 17h1M23 17h2M33 17h1M47 17h1M63 17h1M2 18h1M24 18h1M33 18h1M47 18h1M63 18h1M3 19h1M33 19h1M47 19h1M62 19h1M3 20h1M33 20h1M47 20h1M62 20h1M3 21h1M33 21h1M47 21h1M62 21h1M3 22h1M33 22h1M46 22h1M62 22h1M4 23h1M32 23h1M46 23h1M62 23h1M4 24h1M32 24h1M46 24h1M62 24h1M4 25h1M31 25h1M46 25h1M61 25h1M4 26h1M31 26h1M45 26h1M61 26h1M4 27h1M30 27h1M45 27h1M61 27h1M5 28h1M30 28h1M45 28h1M61 28h1M5 29h1M30 29h1M45 29h1M61 29h1M5 30h1M30 30h1M45 30h1M61 30h1M5 31h1M30 31h1M44 31h1M61 31h1M6 32h1M30 32h1M44 32h1M61 32h1M6 33h1M30 33h1M44 33h1M60 33h1M6 34h1M30 34h1M44 34h1M60 34h1M7 35h1M30 35h1M44 35h1M60 35h1M7 36h1M30 36h1M44 36h1M60 36h1M7 37h1M30 37h1M43 37h1M60 37h1M7 38h1M30 38h1M43 38h1M60 38h1M8 39h1M30 39h1M43 39h1M59 39h1M8 40h1M30 40h1M43 40h1M59 40h1M8 41h1M30 41h1M43 41h1M59 41h1M8 42h1M30 42h1M43 42h1M59 42h1M8 43h1M30 43h1M43 43h1M58 43h1M8 44h1M30 44h1M43 44h1M58 44h1M8 45h1M30 45h1M43 45h1M58 45h1M8 46h1M30 46h1M42 46h1M58 46h1M8 47h1M30 47h1M42 47h1M57 47h1M9 48h1M30 48h1M42 48h1M57 48h1M9 49h1M30 49h1M42 49h1M57 49h1M9 50h1M30 50h1M42 50h1M57 50h1M9 51h1M30 51h1M42 51h1M56 51h1M9 52h1M30 52h1M41 52h1M56 52h1M9 53h1M30 53h1M41 53h1M56 53h1M9 54h1M30 54h1M40 54h1M56 54h1M9 55h1M30 55h1M40 55h1M55 55h1M9 56h1M30 56h1M39 56h1M55 56h1M10 57h1M30 57h1M39 57h1M55 57h1M10 58h1M30 58h1M38 58h1M54 58h1M11 59h1M30 59h1M38 59h1M54 59h1M11 60h1M30 60h1M38 60h1M54 60h1M12 61h1M30 61h1M38 61h1M53 61h1M12 62h1M30 62h1M38 62h1M53 62h1M13 63h1M30 63h1M38 63h1M53 63h1M13 64h1M30 64h1M38 64h1M53 64h1M13 65h1M30 65h1M37 65h1M52 65h1M14 66h1M30 66h1M37 66h1M52 66h1M14 67h1M30 67h1M36 67h1M52 67h1M15 68h1M30 68h1M35 68h1M51 68h1M16 69h2M30 69h1M35 69h1M51 69h1M18 70h1M29 70h1M34 70h1M50 70h1M19 71h2M25 71h4M33 71h1M50 71h1M21 72h4M33 72h1M49 72h1M113 72h23M0 73h4M32 73h1M49 73h1M104 73h9M4 74h3M32 74h1M48 74h1M98 74h6M7 75h1M31 75h1M48 75h1M94 75h4M7 76h1M31 76h1M47 76h1M91 76h3M8 77h1M31 77h1M47 77h1M87 77h4M9 78h1M31 78h1M46 78h1M81 78h6M10 79h1M31 79h1M45 79h1M77 79h4M11 80h1M31 80h1M45 80h1M75 80h2M12 81h1M31 81h1M44 81h1M72 81h3M13 82h1M31 82h1M43 82h1M70 82h2M14 83h1M31 83h1M43 83h1M67 83h3M15 84h2M32 84h1M42 84h1M65 84h2M17 85h1M32 85h1M41 85h1M63 85h2M18 86h2M32 86h1M40 86h1M61 86h2M20 87h2M32 87h1M39 87h1M59 87h2M22 88h3M32 88h1M38 88h1M58 88h1M112 88h24M0 89h2M25 89h2M30 89h2M37 89h1M56 89h2M105 89h7M2 90h4M27 90h3M36 90h1M55 90h1M99 90h6M6 91h3M35 91h1M54 91h1M93 91h6M9 92h2M34 92h1M52 92h2M87 92h6M11 93h1M34 93h1M51 93h1M83 93h4M12 94h1M34 94h1M50 94h1M80 94h3M13 95h1M35 95h1M49 95h1M77 95h3M14 96h1M35 96h1M48 96h1M75 96h2M15 97h2M35 97h1M47 97h1M72 97h3M17 98h2M36 98h1M45 98h2M69 98h3M19 99h2M37 99h1M43 99h2M67 99h2M21 100h4M38 100h5M65 100h2M25 101h4M64 101h1M118 101h18M0 102h7M29 102h1M62 102h2M113 102h5M7 103h1M30 103h2M46 103h13M61 103h1M111 103h2M8 104h1M32 104h1M46 104h1M59 104h2M109 104h2M9 105h2M32 105h1M45 105h1M65 105h44M11 106h3M33 106h1M45 106h1M64 106h1M14 107h3M33 107h1M45 107h1M63 107h1M17 108h2M34 108h1M46 108h1M63 108h1M19 109h2M34 109h1M47 109h1M63 109h1M121 109h5M21 110h2M35 110h1M47 110h1M63 110h1M119 110h2M126 110h7M23 111h2M35 111h1M48 111h1M63 111h1M117 111h2M133 111h3M0 112h3M25 112h1M36 112h1M48 112h1M63 112h1M118 112h2M3 113h3M25 113h1M36 113h1M48 113h1M64 113h1M120 113h2M6 114h1M26 114h1M37 114h1M49 114h1M64 114h1M122 114h1M7 115h1M26 115h1M37 115h1M49 115h1M64 115h1M123 115h2M8 116h1M27 116h1M37 116h1M49 116h1M65 116h1M125 116h1M9 117h1M27 117h1M38 117h1M50 117h1M65 117h1M126 117h2M10 118h1M27 118h1M38 118h1M51 118h1M66 118h1M128 118h2M11 119h1M28 119h1M39 119h1M51 119h1M66 119h1M130 119h2M12 120h1M28 120h1M39 120h1M52 120h1M67 120h1M132 120h1M13 121h2M28 121h1M40 121h1M53 121h1M67 121h1M133 121h2M15 122h1M29 122h1M40 122h1M54 122h1M68 122h2M135 122h1M16 123h1M29 123h1M41 123h1M55 123h1M70 123h2M17 124h1M30 124h1M42 124h1M56 124h1M72 124h3M18 125h1M30 125h1M43 125h1M57 125h1M75 125h2M18 126h1M31 126h1M43 126h1M58 126h1M77 126h13M19 127h1M32 127h1M44 127h1M59 127h1M90 127h4M0 128h1M20 128h1M32 128h1M44 128h1M60 128h1M94 128h3M1 129h1M20 129h1M33 129h1M45 129h1M61 129h1M97 129h4M2 130h1M21 130h1M33 130h1M45 130h1M61 130h1M101 130h4M3 131h1M21 131h1M33 131h1M45 131h1M61 131h1M105 131h4M4 132h1M22 132h1M33 132h1M45 132h1M62 132h1M109 132h5M5 133h1M22 133h1M33 133h1M46 133h1M62 133h1M114 133h4M6 134h1M23 134h1M33 134h1M46 134h1M62 134h1M118 134h2M7 135h1M23 135h1M33 135h1M46 135h1M62 135h1M120 135h2" fill="none" stroke="#fff" stroke-width="1" shape-rendering="crispEdges"/>
<g transform="translate(476.5,21.5)">
<rect x="-0.5" y="0" width="134.5" height="135" fill="#00008f"/>
<g clip-path="url(#clip2)" shape-rendering="crispEdges">























<path d="M73.5,21.5 L78.5,13.5 L84.5,7.5 L90.5,3.5 L95.5,2.0 L101.5,3.8 L106.7,5.6 L110.7,2.2 L120.5,12.0 L131.5,23.0 L127.2,27.5 L133.0,35.5 L131.5,38.5 L128.5,45.5 L123.5,51.5 L115.5,57.5 L106.5,61.5 L97.5,62.5 L90.5,60.0 L83.5,55.5 L78.5,50.5 L74.5,45.5 L72.5,39.5 L72.0,31.5 L72.5,24.5Z" fill="#0000ff"/>
<path d="M126.3,24.4 L123.7,20.7 L120.7,17.6 L117.7,14.8 L114.5,12.2 L111.0,9.9 L107.1,8.0 L102.9,6.9 L98.4,6.9 L94.0,8.0 L89.9,9.9 L86.3,12.6 L83.2,15.8 L80.6,19.5 L78.7,23.6 L77.5,28.0 L77.2,32.5 L77.7,37.0 L79.0,41.3 L81.1,45.4 L83.9,49.0 L87.3,52.0 L91.1,54.5 L95.4,56.2 L99.9,57.1 L104.4,57.1 L108.9,56.4 L113.3,54.9 L117.3,52.7 L121.0,49.9 L124.2,46.5 L126.7,42.5 L128.4,38.0 L128.9,33.3 L128.1,28.6Z" fill="#0058ff"/>
<path d="M124.3,25.0 L122.2,20.8 L119.4,17.3 L116.0,14.4 L112.1,12.3 L108.0,11.0 L103.7,10.4 L99.4,10.6 L95.2,11.6 L91.2,13.4 L87.7,16.0 L84.7,19.2 L82.4,23.0 L81.0,27.2 L80.5,31.6 L80.9,36.0 L82.2,40.3 L84.4,44.2 L87.3,47.6 L90.8,50.3 L94.8,52.3 L99.1,53.4 L103.5,53.7 L108.0,53.1 L112.2,51.7 L116.1,49.4 L119.6,46.5 L122.3,42.8 L124.3,38.6 L125.4,34.1 L125.4,29.5Z" fill="#00b8ff"/>
<path d="M121.4,25.8 L119.3,21.8 L116.4,18.4 L112.8,15.8 L108.7,14.1 L104.5,13.3 L100.2,13.4 L96.0,14.3 L92.1,16.2 L88.7,18.9 L86.1,22.4 L84.3,26.4 L83.5,30.8 L83.8,35.2 L85.0,39.4 L87.2,43.3 L90.2,46.6 L94.0,49.1 L98.2,50.7 L102.7,51.2 L107.2,50.7 L111.5,49.2 L115.3,46.7 L118.5,43.4 L120.9,39.4 L122.2,35.0 L122.4,30.4Z" fill="#14ffeb"/>
<path d="M119.0,26.6 L116.8,22.5 L113.5,19.3 L109.6,17.0 L105.3,15.9 L101.0,15.8 L96.7,16.7 L92.8,18.7 L89.6,21.8 L87.3,25.6 L86.1,29.9 L86.2,34.4 L87.4,38.7 L89.8,42.6 L93.2,45.7 L97.3,47.8 L101.8,48.7 L106.4,48.3 L110.8,46.7 L114.6,44.0 L117.6,40.3 L119.5,36.0 L120.0,31.2Z" fill="#87ff78"/>
<path d="M116.6,27.3 L114.3,23.4 L110.9,20.5 L106.9,18.7 L102.7,18.2 L98.5,18.8 L94.6,20.5 L91.4,23.4 L89.3,27.2 L88.5,31.5 L89.0,35.9 L90.9,39.9 L93.9,43.1 L97.9,45.3 L102.3,46.2 L106.8,45.6 L111.0,43.7 L114.4,40.6 L116.7,36.5 L117.5,31.9Z" fill="#ebff14"/>
<path d="M114.2,28.1 L111.6,24.2 L107.8,21.7 L103.5,20.7 L99.2,21.2 L95.3,23.1 L92.5,26.4 L91.1,30.6 L91.4,35.1 L93.5,39.2 L97.0,42.2 L101.4,43.6 L106.1,43.2 L110.3,41.1 L113.5,37.5 L115.0,32.9Z" fill="#ffbf00"/>
<path d="M111.9,28.8 L109.1,25.1 L105.1,23.3 L101.0,23.2 L97.1,24.8 L94.4,28.0 L93.5,32.2 L94.7,36.4 L97.7,39.7 L101.9,41.2 L106.4,40.5 L110.2,37.8 L112.3,33.5Z" fill="#ff5500"/>
<path d="M109.5,29.5 L106.6,26.2 L102.6,25.2 L98.8,26.5 L96.5,29.7 L96.4,33.6 L98.5,37.1 L102.4,38.7 L106.6,37.6 L109.6,34.1Z" fill="#ff0000"/>
</g>
<path d="M-0.5,0H134.5M134,0V135M-0.5,135H134.5" fill="none" stroke="#000" stroke-width="1" shape-rendering="crispEdges"/>
</g>
<path transform="translate(476,21.5)" d="M95 2h3M111 2h1M93 3h2M98 3h3M110 3h1M112 3h1M91 4h2M101 4h3M109 4h1M113 4h1M89 5h2M104 5h2M108 5h1M114 5h1M88 6h1M106 6h2M115 6h1M86 7h2M97 7h9M116 7h1M85 8h1M94 8h3M106 8h3M117 8h1M84 9h1M92 9h2M109 9h2M118 9h1M83 10h1M90 10h2M102 10h5M111 10h2M119 10h1M82 11h1M89 11h1M98 11h4M107 11h4M113 11h2M120 11h1M81 12h1M87 12h2M94 12h4M111 12h3M115 12h1M121 12h1M80 13h1M86 13h1M91 13h3M99 13h8M114 13h3M122 13h1M79 14h1M85 14h1M90 14h1M96 14h3M107 14h4M116 14h2M123 14h1M78 15h1M84 15h1M89 15h1M94 15h2M111 15h2M117 15h2M124 15h1M78 16h1M83 16h1M88 16h1M92 16h2M100 16h8M113 16h1M118 16h2M125 16h1M77 17h1M82 17h1M87 17h1M91 17h1M97 17h3M108 17h4M114 17h2M119 17h2M126 17h1M77 18h1M82 18h1M86 18h1M90 18h1M95 18h2M102 18h4M112 18h2M116 18h1M120 18h2M127 18h1M76 19h1M81 19h1M85 19h1M89 19h1M93 19h2M99 19h3M106 19h4M114 19h1M117 19h1M120 19h1M122 19h1M128 19h1M75 20h1M81 20h1M84 20h1M88 20h1M92 20h1M97 20h2M110 20h2M115 20h1M117 20h1M121 20h1M123 20h1M129 20h1M75 21h1M80 21h1M83 21h1M87 21h1M91 21h1M95 21h2M99 21h8M112 21h1M116 21h1M118 21h1M122 21h1M124 21h1M130 21h1M74 22h1M80 22h1M83 22h1M86 22h1M90 22h1M93 22h2M97 22h2M107 22h3M113 22h1M117 22h1M119 22h1M122 22h1M125 22h1M131 22h1M74 23h1M79 23h1M82 23h1M85 23h1M89 23h1M91 23h2M95 23h2M101 23h6M110 23h2M114 23h1M117 23h1M119 23h1M123 23h1M125 23h1M132 23h1M73 24h1M79 24h1M82 24h1M85 24h1M88 24h1M90 24h1M94 24h1M99 24h2M107 24h2M112 24h1M115 24h1M118 24h1M120 24h1M123 24h1M126 24h1M131 24h1M73 25h1M79 25h1M81 25h1M84 25h1M88 25h1M90 25h1M93 25h1M97 25h2M102 25h4M109 25h1M112 25h1M115 25h1M118 25h1M120 25h1M124 25h1M126 25h1M130 25h1M73 26h1M78 26h1M81 26h1M84 26h1M87 26h1M89 26h1M92 26h1M96 26h1M99 26h3M106 26h2M110 26h1M113 26h1M116 26h1M119 26h1M121 26h1M124 26h1M127 26h1M129 26h1M73 27h1M78 27h1M81 27h1M84 27h1M87 27h1M89 27h1M92 27h1M95 27h1M98 27h1M108 27h1M110 27h1M113 27h1M117 27h1M119 27h1M121 27h1M124 27h1M127 27h2M73 28h1M78 28h1M81 28h1M84 28h1M86 28h1M89 28h1M92 28h1M94 28h1M98 28h1M108 28h1M111 28h1M114 28h1M117 28h1M119 28h1M121 28h1M125 28h1M127 28h2M72 29h1M78 29h1M81 29h1M84 29h1M86 29h1M89 29h1M91 29h1M94 29h1M97 29h1M109 29h1M112 29h1M114 29h1M117 29h1M119 29h1M122 29h1M125 29h1M128 29h1M72 30h1M77 30h1M81 30h1M84 30h1M86 30h1M89 30h1M91 30h1M94 30h1M97 30h1M110 30h1M112 30h1M114 30h1M118 30h1M120 30h1M122 30h1M125 30h1M128 30h2M72 31h1M77 31h1M81 31h1M84 31h1M86 31h1M89 31h1M91 31h1M94 31h1M97 31h1M110 31h1M112 31h1M115 31h1M118 31h1M120 31h1M122 31h1M125 31h1M128 31h2M72 32h1M77 32h1M81 32h1M84 32h1M86 32h1M89 32h1M91 32h1M94 32h1M96 32h1M110 32h1M112 32h1M115 32h1M118 32h1M120 32h1M122 32h1M125 32h1M129 32h2M72 33h1M77 33h1M81 33h1M84 33h1M86 33h1M89 33h1M91 33h1M94 33h1M96 33h1M110 33h1M112 33h1M115 33h1M118 33h1M120 33h1M122 33h1M125 33h1M129 33h1M131 33h1M72 34h1M77 34h1M81 34h1M84 34h1M86 34h1M89 34h1M91 34h1M95 34h2M110 34h1M112 34h1M115 34h1M118 34h2M122 34h1M125 34h1M129 34h1M132 34h1M72 35h1M78 35h1M81 35h1M84 35h1M86 35h1M89 35h1M91 35h1M95 35h1M97 35h1M109 35h1M112 35h1M114 35h1M117 35h1M119 35h1M122 35h1M125 35h1M129 35h1M132 35h1M72 36h1M78 36h1M81 36h1M84 36h1M86 36h1M89 36h1M92 36h1M95 36h1M97 36h1M109 36h1M111 36h1M114 36h1M117 36h1M119 36h1M122 36h1M125 36h1M128 36h1M133 36h1M73 37h1M78 37h1M81 37h1M85 37h1M87 37h1M90 37h1M92 37h1M96 37h1M98 37h1M108 37h1M111 37h1M113 37h1M117 37h1M119 37h1M122 37h1M124 37h1M128 37h1M133 37h1M73 38h1M78 38h1M82 38h1M85 38h1M87 38h1M90 38h1M93 38h1M97 38h1M99 38h2M105 38h3M109 38h2M112 38h1M116 38h1M119 38h1M121 38h1M124 38h1M128 38h1M132 38h1M73 39h1M79 39h1M82 39h1M85 39h1M87 39h1M91 39h1M93 39h1M97 39h1M101 39h4M107 39h2M112 39h1M116 39h1M118 39h1M121 39h1M124 39h1M128 39h1M132 39h1M73 40h1M79 40h1M82 40h1M86 40h1M88 40h1M91 40h1M94 40h1M98 40h2M104 40h3M111 40h1M115 40h1M118 40h1M121 40h1M124 40h1M128 40h1M132 40h1M73 41h1M79 41h1M83 41h1M86 41h1M89 41h1M92 41h1M95 41h2M100 41h4M109 41h2M114 41h1M117 41h1M120 41h1M123 41h1M127 41h1M131 41h1M74 42h1M80 42h1M83 42h1M87 42h1M89 42h1M93 42h1M97 42h1M107 42h2M113 42h1M117 42h1M120 42h1M123 42h1M127 42h1M131 42h1M74 43h1M80 43h1M84 43h1M87 43h1M90 43h1M94 43h1M98 43h2M104 43h3M112 43h1M116 43h1M119 43h1M122 43h1M126 43h1M130 43h1M74 44h1M81 44h1M84 44h1M88 44h1M91 44h1M95 44h2M100 44h4M110 44h2M115 44h1M118 44h1M121 44h1M126 44h1M130 44h1M75 45h1M81 45h1M85 45h1M89 45h1M92 45h1M97 45h3M108 45h2M113 45h2M117 45h1M121 45h1M125 45h1M129 45h1M75 46h1M82 46h1M86 46h1M89 46h1M93 46h1M100 46h8M112 46h1M116 46h1M120 46h1M124 46h1M129 46h1M76 47h1M83 47h1M86 47h1M90 47h1M94 47h2M109 47h3M114 47h2M118 47h2M123 47h1M128 47h1M77 48h1M83 48h1M87 48h1M91 48h2M96 48h4M104 48h5M112 48h2M117 48h1M123 48h1M127 48h1M77 49h1M84 49h1M88 49h2M93 49h2M100 49h4M110 49h2M116 49h1M122 49h1M126 49h1M78 50h1M85 50h1M90 50h2M95 50h2M108 50h2M114 50h2M121 50h1M126 50h1M79 51h1M86 51h1M92 51h2M97 51h11M113 51h1M119 51h2M125 51h1M80 52h1M87 52h1M94 52h3M110 52h3M118 52h1M124 52h1M81 53h1M88 53h2M97 53h5M106 53h4M116 53h2M123 53h1M82 54h1M90 54h2M102 54h4M114 54h2M121 54h2M83 55h1M92 55h2M111 55h3M120 55h1M84 56h1M94 56h4M107 56h4M119 56h1M85 57h2M98 57h9M117 57h2M87 58h2M115 58h2M89 59h2M113 59h2M91 60h2M111 60h2M93 61h2M109 61h2M95 62h2M103 62h6M97 63h6" fill="none" stroke="#000" stroke-width="1" shape-rendering="crispEdges"/>
<path transform="translate(476,21.5)" d="M4 0h1M13 0h1M22 0h1M31 0h1M40 0h1M49 0h1M58 0h2M63 0h1M114 0h1M118 0h2M128 0h1M5 1h1M14 1h1M23 1h1M32 1h1M41 1h1M50 1h1M60 1h1M63 1h1M115 1h3M129 1h1M6 2h1M15 2h1M24 2h1M33 2h1M42 2h1M51 2h1M61 2h2M120 2h2M130 2h1M7 3h1M16 3h1M25 3h2M34 3h1M43 3h2M52 3h1M120 3h2M131 3h2M8 4h2M17 4h2M27 4h1M35 4h1M45 4h1M53 4h1M119 4h1M122 4h1M133 4h1M0 5h1M10 5h1M19 5h1M28 5h1M36 5h1M46 5h1M54 5h1M119 5h1M122 5h1M134 5h1M1 6h1M11 6h1M20 6h1M29 6h1M37 6h2M47 6h1M55 6h1M120 6h2M2 7h1M12 7h1M21 7h1M30 7h1M39 7h1M48 7h1M56 7h1M125 7h1M3 8h1M13 8h1M22 8h1M31 8h1M40 8h1M49 8h1M57 8h1M124 8h1M126 8h1M4 9h2M14 9h1M23 9h1M32 9h1M41 9h1M50 9h1M58 9h1M124 9h1M127 9h1M6 10h1M15 10h1M24 10h1M33 10h1M42 10h1M51 10h1M59 10h1M124 10h1M127 10h1M7 11h1M16 11h1M25 11h1M34 11h2M43 11h1M52 11h1M60 11h1M125 11h2M8 12h1M17 12h1M26 12h1M36 12h1M44 12h1M53 12h2M61 12h1M130 12h1M0 13h1M9 13h1M18 13h2M27 13h1M37 13h1M45 13h1M55 13h1M62 13h1M129 13h1M131 13h1M1 14h1M10 14h1M20 14h1M28 14h2M38 14h1M46 14h1M56 14h1M62 14h1M128 14h1M132 14h2M2 15h1M11 15h1M21 15h1M30 15h1M39 15h1M47 15h1M57 15h1M63 15h1M129 15h4M3 16h1M12 16h1M22 16h1M31 16h1M40 16h1M48 16h1M58 16h1M63 16h1M4 17h2M13 17h1M23 17h1M32 17h1M41 17h1M49 17h1M59 17h2M63 17h1M134 17h1M6 18h1M14 18h1M24 18h1M33 18h1M42 18h1M50 18h1M61 18h1M63 18h1M133 18h1M7 19h1M15 19h2M25 19h1M34 19h1M43 19h2M51 19h2M62 19h1M133 19h1M8 20h1M17 20h1M26 20h1M35 20h1M45 20h1M53 20h1M134 20h1M9 21h1M18 21h1M27 21h1M36 21h1M46 21h1M54 21h1M0 22h1M10 22h1M19 22h1M28 22h2M37 22h1M47 22h1M55 22h1M1 23h1M11 23h1M20 23h1M30 23h1M38 23h1M48 23h1M56 23h1M2 24h1M12 24h1M21 24h1M31 24h1M39 24h2M49 24h1M57 24h1M3 25h1M13 25h1M22 25h1M32 25h1M41 25h1M50 25h1M58 25h1M4 26h2M14 26h2M23 26h1M33 26h1M42 26h1M51 26h1M59 26h1M6 27h1M16 27h1M24 27h1M34 27h1M43 27h1M52 27h2M60 27h1M7 28h1M17 28h1M25 28h1M35 28h1M44 28h1M54 28h1M60 28h1M8 29h1M18 29h1M26 29h2M36 29h1M45 29h1M55 29h1M61 29h1M0 30h1M9 30h1M19 30h1M28 30h1M37 30h1M46 30h1M56 30h1M61 30h1M1 31h1M10 31h1M20 31h1M29 31h1M38 31h2M47 31h1M57 31h1M61 31h1M2 32h1M11 32h1M21 32h1M30 32h1M40 32h1M48 32h1M58 32h1M61 32h1M3 33h1M12 33h1M22 33h1M31 33h1M41 33h1M49 33h1M59 33h3M4 34h2M13 34h1M23 34h1M32 34h1M42 34h1M50 34h2M6 35h1M14 35h2M24 35h1M33 35h1M43 35h1M52 35h1M7 36h1M16 36h1M25 36h2M34 36h1M44 36h1M53 36h1M8 37h1M17 37h1M27 37h1M35 37h1M45 37h1M54 37h1M0 38h1M9 38h1M18 38h1M28 38h1M36 38h1M46 38h1M55 38h1M1 39h1M10 39h1M19 39h1M29 39h1M37 39h2M47 39h1M56 39h1M2 40h1M11 40h1M20 40h1M30 40h1M39 40h1M48 40h2M57 40h1M3 41h1M12 41h1M21 41h1M31 41h1M40 41h1M50 41h1M57 41h1M4 42h2M13 42h1M22 42h1M32 42h1M41 42h1M51 42h1M58 42h1M6 43h1M14 43h1M23 43h1M33 43h1M42 43h1M52 43h1M58 43h1M7 44h1M15 44h2M24 44h1M34 44h1M43 44h1M53 44h1M58 44h1M8 45h1M17 45h1M25 45h2M35 45h1M44 45h1M54 45h1M58 45h1M0 46h1M9 46h1M18 46h1M27 46h1M36 46h2M45 46h1M55 46h2M58 46h1M1 47h1M10 47h1M19 47h1M28 47h1M38 47h1M46 47h1M57 47h2M2 48h1M11 48h1M20 48h1M29 48h1M39 48h1M47 48h1M3 49h1M12 49h1M21 49h1M30 49h1M40 49h1M48 49h2M4 50h1M13 50h1M22 50h1M31 50h1M41 50h1M50 50h1M5 51h2M14 51h1M23 51h1M32 51h1M42 51h1M51 51h1M7 52h1M15 52h1M24 52h1M33 52h1M43 52h1M52 52h1M8 53h1M16 53h2M25 53h1M34 53h1M44 53h1M53 53h1M9 54h1M18 54h1M26 54h2M35 54h2M45 54h1M54 54h1M0 55h1M10 55h1M19 55h1M28 55h1M37 55h1M46 55h2M55 55h1M1 56h1M11 56h1M20 56h1M29 56h1M38 56h1M48 56h1M55 56h1M2 57h1M12 57h1M21 57h1M30 57h1M39 57h1M49 57h1M56 57h1M3 58h2M13 58h1M22 58h1M31 58h1M40 58h1M50 58h1M56 58h1M5 59h1M14 59h1M23 59h1M32 59h1M41 59h1M51 59h1M56 59h1M6 60h1M15 60h1M24 60h1M33 60h1M42 60h1M52 60h1M56 60h1M7 61h1M16 61h1M25 61h1M34 61h1M43 61h1M53 61h1M56 61h1M8 62h1M17 62h1M26 62h1M35 62h1M44 62h1M54 62h3M0 63h1M9 63h1M18 63h2M27 63h1M36 63h1M45 63h2M1 64h1M10 64h1M20 64h1M28 64h2M37 64h2M47 64h1M2 65h2M11 65h2M21 65h1M30 65h1M39 65h1M48 65h1M4 66h1M13 66h1M22 66h1M31 66h1M40 66h1M49 66h1M5 67h1M14 67h1M23 67h1M32 67h1M41 67h1M50 67h1M6 68h1M15 68h1M24 68h1M33 68h1M42 68h1M51 68h1M7 69h1M16 69h1M24 69h2M34 69h1M42 69h2M51 69h2M6 70h1M14 70h2M23 70h1M32 70h2M40 70h2M49 70h2M7 71h1M15 71h1M24 71h1M33 71h1M41 71h1M50 71h1M8 72h1M16 72h1M25 72h1M34 72h1M42 72h1M51 72h1M0 73h1M9 73h1M17 73h1M26 73h1M35 73h1M43 73h1M52 73h1M1 74h1M10 74h1M18 74h1M27 74h1M36 74h1M44 74h1M53 74h1M109 74h2M2 75h1M11 75h1M19 75h1M28 75h1M37 75h1M45 75h1M54 75h1M94 75h2M107 75h2M111 75h1M3 76h1M12 76h1M20 76h1M29 76h1M38 76h1M46 76h1M54 76h1M93 76h1M96 76h2M107 76h1M112 76h2M4 77h1M13 77h1M21 77h1M30 77h1M39 77h1M47 77h1M55 77h1M80 77h4M93 77h1M98 77h2M107 77h1M114 77h1M5 78h1M14 78h1M22 78h1M31 78h1M40 78h1M48 78h1M56 78h1M65 78h5M79 78h1M84 78h1M93 78h1M100 78h2M108 78h1M115 78h1M126 78h2M6 79h1M15 79h1M23 79h1M32 79h1M41 79h1M49 79h1M57 79h1M63 79h3M70 79h1M79 79h1M85 79h2M94 79h1M102 79h1M108 79h1M116 79h1M125 79h1M128 79h2M7 80h1M16 80h1M24 80h1M33 80h1M42 80h1M50 80h1M58 80h1M61 80h2M64 80h2M71 80h2M80 80h1M87 80h1M94 80h1M103 80h1M109 80h1M117 80h1M125 80h1M130 80h1M0 81h1M8 81h1M17 81h1M25 81h1M34 81h1M43 81h1M51 81h1M59 81h2M64 81h1M66 81h1M73 81h1M80 81h1M88 81h1M95 81h1M103 81h1M110 81h1M117 81h1M126 81h1M131 81h2M1 82h1M9 82h1M18 82h1M26 82h1M35 82h1M44 82h1M52 82h1M64 82h1M66 82h1M74 82h1M81 82h1M89 82h1M96 82h1M104 82h1M110 82h1M118 82h1M126 82h1M133 82h1M2 83h1M10 83h1M19 83h1M27 83h1M36 83h1M45 83h1M53 83h1M64 83h2M67 83h1M75 83h1M82 83h1M89 83h1M97 83h1M105 83h1M111 83h1M119 83h1M127 83h1M134 83h1M3 84h1M11 84h1M20 84h1M28 84h1M37 84h1M46 84h1M54 84h1M64 84h2M68 84h1M75 84h1M83 84h1M90 84h1M97 84h1M106 84h1M112 84h1M120 84h1M128 84h1M4 85h1M12 85h1M21 85h1M29 85h1M38 85h1M46 85h1M55 85h1M64 85h1M69 85h1M76 85h1M83 85h1M91 85h1M98 85h1M106 85h1M113 85h1M121 85h1M128 85h1M5 86h1M13 86h1M22 86h1M30 86h1M39 86h1M47 86h1M56 86h1M64 86h1M69 86h1M77 86h1M84 86h1M92 86h1M99 86h1M107 86h1M114 86h1M121 86h1M129 86h1M6 87h1M14 87h1M23 87h1M31 87h1M40 87h1M48 87h1M57 87h1M63 87h1M70 87h1M78 87h1M85 87h1M93 87h1M100 87h1M108 87h1M114 87h1M122 87h1M130 87h1M7 88h1M15 88h1M24 88h1M32 88h1M41 88h1M49 88h1M58 88h1M62 88h1M71 88h1M78 88h1M86 88h1M93 88h1M101 88h1M109 88h1M115 88h1M123 88h1M131 88h1M8 89h1M16 89h1M25 89h1M33 89h1M42 89h1M50 89h1M59 89h1M61 89h1M72 89h1M79 89h1M86 89h1M94 89h1M101 89h1M110 89h1M116 89h1M124 89h1M131 89h1M0 90h1M9 90h1M17 90h1M26 90h1M34 90h1M43 90h1M51 90h1M60 90h1M65 90h1M72 90h1M80 90h1M87 90h1M95 90h1M102 90h1M110 90h1M117 90h1M125 90h1M132 90h1M1 91h1M10 91h1M18 91h1M27 91h1M35 91h1M44 91h1M52 91h1M64 91h3M73 91h1M81 91h1M88 91h1M96 91h1M103 91h1M111 91h1M118 91h1M126 91h1M133 91h1M2 92h1M11 92h1M19 92h1M28 92h1M36 92h1M45 92h1M53 92h1M64 92h2M67 92h1M74 92h1M82 92h1M89 92h1M96 92h1M104 92h1M112 92h1M118 92h1M126 92h1M134 92h1M3 93h1M12 93h1M20 93h1M29 93h1M37 93h1M46 93h1M54 93h1M64 93h2M67 93h1M75 93h1M82 93h1M90 93h1M97 93h1M104 93h1M113 93h1M119 93h1M127 93h1M134 93h1M4 94h1M12 94h1M21 94h1M30 94h1M38 94h1M47 94h1M55 94h1M64 94h1M68 94h1M76 94h1M83 94h1M90 94h1M98 94h1M105 94h1M113 94h1M120 94h1M128 94h1M5 95h1M13 95h1M22 95h1M31 95h1M39 95h1M48 95h1M56 95h1M63 95h1M69 95h1M76 95h1M84 95h1M91 95h1M99 95h1M106 95h1M114 95h1M121 95h1M129 95h1M6 96h1M14 96h1M23 96h1M32 96h1M40 96h1M49 96h1M57 96h1M62 96h1M70 96h1M77 96h1M85 96h1M92 96h1M100 96h1M107 96h1M115 96h1M122 96h1M130 96h1M7 97h1M15 97h1M24 97h1M33 97h1M41 97h1M50 97h1M58 97h1M62 97h1M70 97h1M78 97h1M86 97h1M93 97h1M100 97h1M108 97h1M116 97h1M122 97h1M130 97h1M8 98h1M16 98h1M25 98h1M33 98h1M42 98h1M51 98h1M59 98h1M61 98h1M71 98h1M79 98h1M86 98h1M93 98h1M101 98h1M108 98h1M117 98h1M123 98h1M131 98h1M0 99h1M9 99h1M17 99h1M26 99h1M34 99h1M43 99h1M52 99h1M60 99h1M65 99h1M72 99h1M79 99h1M87 99h1M94 99h1M102 99h1M109 99h1M117 99h1M124 99h1M132 99h1M1 100h1M10 100h1M18 100h1M27 100h1M35 100h1M44 100h1M53 100h1M65 100h2M73 100h1M80 100h1M88 100h1M95 100h1M103 100h1M110 100h1M118 100h1M125 100h1M133 100h1M2 101h1M11 101h1M19 101h1M28 101h1M36 101h1M45 101h1M54 101h1M64 101h1M67 101h1M74 101h1M81 101h1M89 101h1M96 101h1M104 101h1M111 101h1M119 101h1M126 101h1M134 101h1M3 102h1M12 102h1M20 102h1M29 102h1M37 102h1M46 102h1M55 102h1M64 102h1M67 102h1M74 102h1M82 102h1M89 102h1M97 102h1M104 102h1M112 102h1M120 102h1M126 102h1M134 102h1M4 103h1M13 103h1M21 103h1M30 103h1M38 103h1M47 103h1M56 103h1M64 103h1M68 103h1M75 103h1M82 103h1M90 103h1M97 103h1M105 103h1M112 103h1M120 103h1M127 103h1M5 104h1M14 104h1M22 104h1M30 104h1M39 104h1M48 104h1M57 104h1M63 104h1M69 104h1M76 104h1M83 104h1M91 104h1M98 104h1M106 104h1M113 104h1M121 104h1M128 104h1M6 105h1M15 105h1M23 105h1M31 105h1M40 105h1M49 105h1M58 105h1M62 105h1M70 105h1M77 105h1M84 105h1M92 105h1M99 105h1M107 105h1M114 105h1M122 105h1M129 105h1M7 106h1M16 106h1M24 106h1M32 106h1M41 106h1M50 106h1M59 106h1M61 106h1M70 106h1M78 106h1M85 106h1M93 106h1M100 106h1M107 106h1M115 106h1M123 106h1M130 106h1M8 107h1M17 107h1M25 107h1M33 107h1M42 107h1M51 107h1M60 107h1M71 107h1M78 107h1M86 107h1M93 107h1M100 107h1M108 107h1M115 107h1M124 107h1M130 107h1M0 108h1M9 108h1M18 108h1M26 108h1M34 108h1M43 108h1M52 108h1M72 108h1M79 108h1M86 108h1M94 108h1M101 108h1M109 108h1M116 108h1M124 108h1M131 108h1M1 109h1M10 109h1M19 109h1M27 109h1M35 109h1M44 109h1M53 109h1M65 109h1M73 109h1M80 109h1M87 109h1M95 109h1M102 109h1M110 109h1M117 109h1M125 109h1M132 109h1M2 110h1M11 110h1M20 110h1M28 110h1M36 110h1M45 110h1M54 110h1M65 110h2M73 110h1M81 110h1M88 110h1M96 110h1M103 110h1M111 110h1M118 110h1M126 110h1M133 110h1M3 111h1M12 111h1M21 111h1M29 111h1M37 111h1M46 111h1M55 111h1M64 111h1M67 111h1M74 111h1M81 111h1M89 111h1M96 111h1M104 111h1M111 111h1M119 111h1M127 111h1M134 111h1M4 112h1M13 112h1M22 112h1M30 112h1M38 112h1M47 112h1M56 112h1M64 112h1M67 112h1M75 112h1M82 112h1M89 112h1M97 112h1M104 112h1M112 112h1M119 112h1M127 112h1M134 112h1M5 113h1M14 113h1M22 113h1M31 113h1M39 113h1M48 113h1M57 113h1M63 113h1M68 113h1M76 113h1M83 113h1M90 113h1M98 113h1M105 113h1M113 113h1M120 113h1M128 113h1M6 114h1M15 114h1M23 114h1M32 114h1M40 114h1M49 114h1M58 114h1M62 114h1M69 114h1M76 114h1M84 114h1M91 114h1M99 114h1M106 114h1M114 114h1M121 114h1M129 114h1M7 115h1M16 115h1M24 115h1M33 115h1M41 115h1M50 115h1M59 115h1M61 115h1M70 115h1M77 115h1M85 115h1M92 115h1M100 115h1M107 115h1M115 115h1M122 115h1M130 115h1M8 116h1M17 116h1M25 116h1M34 116h1M42 116h1M51 116h1M60 116h1M70 116h1M78 116h1M85 116h1M93 116h1M100 116h1M107 116h1M115 116h1M123 116h1M131 116h1M0 117h1M9 117h1M17 117h1M26 117h1M35 117h1M43 117h1M52 117h1M71 117h1M79 117h1M86 117h1M93 117h1M101 117h1M108 117h1M116 117h1M123 117h1M131 117h1M1 118h1M10 118h1M18 118h1M27 118h1M36 118h1M44 118h1M53 118h1M64 118h2M72 118h1M79 118h1M87 118h1M94 118h1M102 118h1M109 118h1M117 118h1M124 118h1M132 118h1M2 119h1M11 119h1M19 119h1M28 119h1M37 119h1M45 119h1M54 119h1M64 119h3M73 119h1M80 119h1M88 119h1M95 119h1M103 119h1M110 119h1M118 119h1M125 119h1M133 119h1M3 120h1M12 120h1M20 120h1M29 120h1M38 120h1M46 120h1M55 120h1M64 120h3M74 120h1M81 120h1M88 120h1M96 120h1M103 120h1M111 120h1M118 120h1M126 120h1M134 120h1M4 121h1M13 121h1M21 121h1M30 121h1M39 121h1M47 121h1M56 121h1M64 121h2M67 121h1M74 121h1M82 121h1M89 121h1M96 121h1M104 121h1M111 121h1M119 121h1M127 121h1M134 121h1M5 122h1M13 122h1M22 122h1M31 122h1M39 122h1M48 122h1M57 122h1M63 122h3M68 122h1M75 122h1M82 122h1M90 122h1M97 122h1M105 122h1M112 122h1M120 122h1M127 122h1M6 123h1M14 123h1M23 123h1M32 123h1M40 123h1M49 123h1M58 123h1M62 123h1M64 123h2M69 123h1M76 123h1M83 123h1M91 123h1M98 123h1M106 123h1M113 123h1M121 123h1M128 123h1M7 124h1M15 124h1M24 124h1M33 124h1M41 124h1M50 124h1M59 124h1M61 124h9M77 124h1M84 124h1M92 124h1M99 124h1M107 124h1M114 124h1M122 124h1M129 124h1M8 125h1M16 125h1M25 125h1M34 125h1M42 125h1M51 125h1M60 125h1M63 125h5M70 125h1M77 125h1M85 125h1M92 125h1M99 125h1M107 125h1M114 125h1M122 125h1M130 125h1M0 126h1M9 126h1M17 126h1M26 126h1M35 126h1M43 126h1M52 126h1M64 126h2M71 126h1M78 126h1M85 126h1M93 126h1M100 126h1M108 126h1M115 126h1M123 126h1M130 126h1M1 127h1M10 127h1M18 127h1M27 127h1M36 127h1M44 127h1M53 127h1M64 127h2M71 127h1M79 127h1M86 127h1M94 127h1M101 127h1M109 127h1M116 127h1M124 127h1M131 127h1M2 128h1M11 128h1M19 128h1M28 128h1M37 128h1M45 128h1M54 128h1M64 128h2M72 128h1M80 128h1M87 128h1M95 128h1M102 128h1M110 128h1M117 128h1M125 128h1M132 128h1M3 129h1M12 129h1M20 129h1M29 129h1M38 129h1M46 129h1M55 129h1M64 129h3M73 129h1M81 129h1M88 129h1M96 129h1M103 129h1M111 129h1M118 129h1M126 129h1M133 129h1M4 130h1M13 130h1M21 130h1M30 130h1M39 130h1M47 130h1M56 130h1M64 130h2M67 130h1M74 130h1M81 130h1M88 130h1M96 130h1M103 130h1M111 130h1M118 130h1M126 130h1M134 130h1M5 131h1M14 131h1M22 131h1M31 131h1M40 131h1M48 131h1M57 131h1M63 131h3M67 131h1M74 131h1M82 131h1M89 131h1M97 131h1M104 131h1M112 131h1M119 131h1M127 131h1M134 131h1M6 132h1M15 132h1M23 132h1M32 132h1M41 132h1M49 132h1M58 132h1M62 132h1M64 132h2M68 132h1M75 132h1M83 132h1M90 132h1M98 132h1M105 132h1M113 132h1M120 132h1M128 132h1M7 133h1M16 133h1M24 133h1M33 133h1M42 133h1M50 133h1M59 133h1M61 133h1M69 133h1M76 133h1M84 133h1M91 133h1M99 133h1M106 133h1M114 133h1M121 133h1M129 133h1M0 134h1M8 134h1M17 134h1M25 134h1M34 134h1M43 134h1M51 134h1M60 134h1M70 134h1M77 134h1M84 134h1M91 134h1M99 134h1M106 134h1M114 134h1M121 134h1M129 134h1M0 135h1M9 135h1M18 135h1M26 135h1M35 135h1M44 135h1M52 135h1M70 135h1M77 135h1M85 135h1M92 135h1M100 135h1M107 135h1M115 135h1M122 135h1M130 135h1" fill="none" stroke="#fff" stroke-width="1" shape-rendering="crispEdges"/>
<g transform="translate(23.5,199.5)">
<rect x="0" y="0" width="135" height="135" fill="#00008f"/>
<g clip-path="url(#clip0)" shape-rendering="crispEdges">
<path d="M94.5,2.0 L99.0,1.7 L103.4,2.2 L107.7,3.6 L111.6,5.8 L115.3,8.2 L118.9,11.0 L122.0,14.1 L124.9,17.5 L127.7,21.1 L129.7,25.0 L131.3,29.3 L132.4,33.7 L132.2,38.1 L130.7,42.3 L128.4,46.2 L125.7,49.7 L122.6,53.0 L119.1,55.8 L115.3,58.1 L111.2,60.0 L107.0,61.4 L102.6,62.3 L98.1,62.5 L93.7,61.9 L89.4,60.6 L85.4,58.6 L81.9,55.8 L78.7,52.7 L75.9,49.2 L74.1,45.1 L73.2,40.7 L73.0,36.2 L73.1,31.7 L73.5,27.3 L74.4,22.9 L75.6,18.5 L77.1,14.3 L79.4,10.5 L82.4,7.1 L85.9,4.3 L90.0,2.7Z" fill="#0000ff"/>
<path d="M94.5,9.0 L99.0,8.7 L103.5,9.2 L107.7,10.6 L111.6,12.8 L115.2,15.6 L118.4,18.7 L121.2,22.2 L123.8,25.9 L125.8,29.9 L126.9,34.3 L126.7,38.7 L125.3,43.0 L122.9,46.8 L119.8,50.1 L116.3,52.9 L112.5,55.2 L108.4,57.0 L104.0,58.2 L99.6,58.5 L95.1,58.1 L90.6,57.3 L86.6,55.4 L83.1,52.6 L80.0,49.3 L77.9,45.4 L76.6,41.0 L76.0,36.6 L76.4,32.1 L77.4,27.7 L78.8,23.4 L80.6,19.3 L83.0,15.6 L86.3,12.4 L90.2,10.2Z" fill="#0058ff"/>
<path d="M120.8,29.1 L118.5,24.6 L115.2,20.9 L111.4,18.0 L107.1,15.9 L102.5,14.7 L97.9,14.5 L93.3,15.4 L89.1,17.2 L85.4,19.8 L82.4,23.1 L80.2,27.0 L78.9,31.2 L78.5,35.5 L78.9,39.8 L80.3,43.9 L82.4,47.6 L85.4,50.7 L88.9,53.1 L92.8,54.6 L97.0,55.4 L101.2,55.4 L105.4,54.8 L109.6,53.3 L113.5,51.0 L117.1,47.8 L119.9,43.8 L121.6,39.1 L122.0,34.0Z" fill="#00b8ff"/>
<path d="M117.4,30.1 L115.1,26.0 L111.9,22.6 L108.1,20.2 L104.0,18.6 L99.6,18.0 L95.3,18.3 L91.2,19.6 L87.4,21.8 L84.3,24.9 L82.1,28.6 L80.8,32.7 L80.5,37.0 L81.4,41.3 L83.2,45.2 L85.9,48.5 L89.4,51.0 L93.3,52.7 L97.4,53.4 L101.6,53.3 L105.8,52.4 L109.8,50.5 L113.4,47.7 L116.2,44.0 L118.0,39.6 L118.5,34.8Z" fill="#14ffeb"/>
<path d="M114.6,31.0 L112.2,26.9 L108.9,23.7 L104.8,21.6 L100.5,20.6 L96.1,20.7 L91.9,22.0 L88.2,24.4 L85.3,27.8 L83.6,31.8 L83.0,36.2 L83.7,40.6 L85.6,44.6 L88.5,47.9 L92.3,50.2 L96.5,51.3 L100.9,51.4 L105.3,50.3 L109.2,48.0 L112.5,44.7 L114.7,40.5 L115.5,35.8Z" fill="#87ff78"/>
<path d="M111.8,31.9 L109.3,27.8 L105.7,24.8 L101.4,23.2 L96.9,23.1 L92.6,24.5 L89.0,27.2 L86.5,31.0 L85.5,35.4 L86.1,39.8 L88.1,43.9 L91.5,46.9 L95.6,48.6 L100.1,48.9 L104.5,47.8 L108.4,45.2 L111.2,41.4 L112.5,36.7Z" fill="#ebff14"/>
<path d="M109.0,32.8 L106.6,28.9 L102.9,26.4 L98.6,25.5 L94.4,26.4 L90.8,28.9 L88.6,32.6 L88.0,36.9 L89.3,41.1 L92.2,44.4 L96.2,46.2 L100.5,46.3 L104.6,44.7 L107.8,41.6 L109.4,37.3Z" fill="#ffbf00"/>
<path d="M106.1,33.7 L103.5,30.1 L99.5,28.6 L95.2,29.1 L91.8,31.9 L90.5,36.1 L92.0,40.3 L95.5,42.9 L99.7,43.4 L103.6,41.8 L106.2,38.1Z" fill="#ff5500"/>
<path d="M102.3,34.8 L100.4,32.5 L97.3,32.3 L95.3,34.3 L95.2,37.0 L96.9,39.1 L99.6,39.4 L101.9,37.8Z" fill="#ff0000"/>
</g>
<rect x="0" y="0" width="135" height="135" fill="none" stroke="#000" stroke-width="1" shape-rendering="crispEdges"/>
</g>
<path transform="translate(23,199.5)" d="M93 2h12M88 3h5M105 3h2M86 4h2M107 4h2M84 5h2M109 5h2M83 6h1M111 6h2M82 7h1M113 7h2M81 8h1M115 8h1M81 9h1M93 9h12M116 9h1M80 10h1M89 10h4M105 10h2M117 10h2M79 11h1M87 11h2M107 11h2M119 11h1M78 12h1M86 12h1M109 12h2M120 12h1M78 13h1M85 13h1M111 13h2M121 13h1M77 14h1M85 14h1M113 14h1M122 14h1M77 15h1M84 15h1M93 15h13M114 15h1M123 15h1M77 16h1M83 16h1M91 16h2M106 16h3M115 16h1M124 16h1M76 17h1M82 17h1M89 17h2M109 17h2M116 17h1M124 17h1M76 18h1M82 18h1M88 18h1M95 18h8M111 18h1M117 18h1M125 18h1M76 19h1M81 19h1M86 19h2M93 19h2M103 19h4M112 19h2M118 19h1M126 19h1M76 20h1M81 20h1M85 20h1M91 20h2M107 20h2M114 20h1M119 20h1M127 20h1M75 21h1M80 21h1M84 21h1M89 21h2M95 21h8M109 21h2M115 21h1M120 21h1M128 21h1M75 22h1M80 22h1M83 22h1M87 22h2M92 22h3M103 22h4M111 22h1M116 22h1M121 22h1M129 22h1M74 23h1M79 23h1M82 23h1M86 23h1M90 23h2M96 23h7M107 23h2M112 23h1M116 23h1M122 23h1M129 23h1M74 24h1M79 24h1M81 24h1M85 24h1M88 24h2M93 24h3M103 24h2M109 24h1M113 24h1M117 24h1M123 24h1M130 24h1M74 25h1M78 25h1M81 25h1M84 25h1M87 25h1M92 25h1M97 25h5M105 25h2M110 25h1M114 25h1M118 25h1M123 25h1M130 25h1M74 26h1M78 26h1M80 26h1M83 26h1M86 26h1M90 26h2M94 26h3M102 26h2M107 26h1M111 26h1M115 26h1M119 26h1M124 26h1M130 26h1M74 27h1M77 27h1M80 27h1M83 27h1M86 27h1M89 27h1M93 27h1M104 27h2M108 27h1M112 27h1M115 27h1M119 27h1M125 27h1M131 27h1M74 28h1M77 28h1M80 28h1M82 28h1M85 28h1M88 28h1M92 28h1M106 28h1M109 28h1M113 28h1M116 28h1M120 28h1M125 28h1M131 28h1M74 29h1M77 29h1M79 29h1M82 29h1M85 29h1M88 29h1M91 29h1M95 29h7M107 29h1M110 29h1M113 29h1M116 29h1M121 29h1M126 29h1M131 29h1M73 30h1M77 30h1M79 30h1M82 30h1M84 30h1M87 30h1M90 30h1M94 30h1M102 30h2M107 30h1M110 30h1M114 30h1M117 30h1M121 30h1M126 30h1M131 30h1M73 31h1M76 31h1M79 31h1M81 31h1M84 31h1M87 31h1M90 31h1M93 31h1M104 31h1M108 31h1M111 31h1M115 31h1M117 31h1M121 31h1M126 31h1M131 31h1M73 32h1M76 32h1M79 32h1M81 32h1M84 32h1M87 32h1M89 32h1M92 32h1M97 32h4M104 32h1M108 32h1M112 32h1M115 32h1M117 32h1M122 32h1M127 32h1M132 32h1M73 33h1M76 33h1M78 33h1M81 33h1M84 33h1M86 33h1M89 33h1M92 33h1M96 33h1M101 33h1M105 33h1M109 33h1M112 33h1M115 33h1M118 33h1M122 33h1M127 33h1M132 33h1M73 34h1M76 34h1M78 34h1M81 34h1M83 34h1M86 34h1M89 34h1M91 34h1M95 34h1M101 34h1M106 34h1M109 34h1M112 34h1M115 34h1M118 34h1M122 34h1M127 34h1M132 34h1M73 35h1M76 35h1M78 35h1M81 35h1M83 35h1M86 35h1M88 35h1M91 35h1M95 35h1M102 35h1M106 35h1M109 35h1M112 35h1M115 35h1M118 35h1M122 35h1M127 35h1M132 35h1M73 36h1M76 36h1M78 36h1M81 36h1M83 36h1M86 36h1M88 36h1M91 36h1M95 36h1M102 36h1M106 36h1M109 36h1M112 36h1M115 36h1M118 36h1M122 36h1M127 36h1M132 36h1M73 37h1M76 37h1M78 37h1M81 37h1M83 37h1M86 37h1M88 37h1M91 37h1M95 37h1M102 37h1M106 37h1M109 37h1M112 37h1M115 37h1M118 37h1M122 37h1M127 37h1M132 37h1M73 38h1M76 38h1M79 38h1M81 38h1M83 38h1M86 38h1M88 38h1M92 38h1M96 38h1M101 38h2M106 38h1M109 38h1M112 38h1M115 38h1M118 38h1M122 38h1M127 38h1M132 38h1M73 39h1M76 39h1M79 39h1M81 39h1M84 39h1M86 39h1M89 39h1M92 39h1M97 39h4M106 39h1M109 39h1M112 39h1M115 39h1M118 39h1M122 39h1M127 39h1M132 39h1M73 40h1M77 40h1M79 40h1M81 40h1M84 40h1M86 40h1M89 40h1M92 40h1M105 40h1M108 40h1M111 40h1M115 40h1M118 40h1M122 40h1M126 40h1M131 40h1M73 41h1M77 41h1M79 41h1M81 41h1M84 41h1M87 41h1M89 41h1M93 41h1M105 41h1M108 41h1M111 41h1M115 41h1M118 41h1M121 41h1M126 41h1M131 41h1M73 42h1M77 42h1M80 42h1M82 42h1M85 42h1M87 42h1M90 42h1M94 42h1M102 42h3M108 42h1M110 42h1M115 42h1M117 42h1M121 42h1M125 42h1M131 42h1M73 43h1M77 43h1M80 43h1M82 43h1M85 43h1M88 43h1M91 43h1M95 43h7M107 43h1M110 43h1M114 43h1M117 43h1M120 43h1M125 43h1M130 43h1M74 44h1M78 44h1M80 44h1M83 44h1M86 44h1M88 44h1M92 44h1M106 44h1M109 44h1M114 44h1M116 44h1M120 44h1M124 44h1M129 44h1M74 45h1M78 45h1M81 45h1M83 45h1M86 45h1M89 45h1M93 45h2M103 45h3M108 45h1M113 45h1M115 45h1M119 45h1M124 45h1M129 45h1M74 46h1M78 46h1M81 46h1M84 46h1M87 46h1M90 46h1M95 46h8M107 46h1M111 46h2M115 46h1M119 46h1M123 46h1M128 46h1M75 47h1M79 47h1M82 47h1M85 47h1M88 47h1M91 47h2M106 47h1M110 47h1M114 47h1M118 47h1M123 47h1M127 47h1M75 48h1M79 48h1M82 48h1M85 48h1M89 48h1M93 48h2M103 48h3M108 48h2M113 48h1M117 48h1M122 48h1M127 48h1M76 49h1M80 49h1M83 49h1M86 49h1M90 49h2M95 49h8M106 49h2M111 49h2M116 49h1M121 49h1M126 49h1M77 50h1M81 50h1M84 50h1M87 50h2M92 50h3M103 50h3M109 50h2M115 50h1M120 50h1M126 50h1M77 51h1M81 51h1M85 51h1M89 51h1M95 51h8M107 51h2M113 51h2M119 51h1M125 51h1M78 52h1M82 52h1M86 52h2M90 52h2M104 52h3M111 52h2M117 52h2M124 52h1M79 53h1M83 53h2M88 53h2M92 53h12M109 53h2M116 53h1M123 53h1M80 54h1M85 54h2M90 54h2M107 54h2M114 54h2M122 54h1M81 55h1M87 55h2M92 55h15M112 55h2M120 55h2M82 56h1M89 56h2M110 56h2M119 56h1M83 57h1M91 57h3M107 57h3M117 57h2M84 58h1M94 58h4M103 58h4M115 58h2M85 59h2M98 59h5M113 59h2M87 60h2M110 60h3M89 61h3M106 61h4M92 62h5M101 62h5M97 63h4" fill="none" stroke="#000" stroke-width="1" shape-rendering="crispEdges"/>
<path transform="translate(23,199.5)" d="M18 0h1M26 0h1M43 0h1M66 0h1M18 1h1M26 1h1M43 1h1M66 1h1M18 2h1M26 2h1M43 2h1M66 2h1M18 3h1M26 3h1M43 3h1M66 3h1M18 4h1M26 4h1M43 4h1M66 4h1M18 5h1M26 5h1M43 5h1M66 5h1M18 6h1M26 6h1M43 6h1M66 6h1M18 7h1M26 7h1M43 7h1M66 7h1M18 8h1M26 8h1M43 8h1M66 8h1M18 9h1M26 9h1M43 9h1M66 9h1M18 10h1M26 10h1M43 10h1M66 10h1M18 11h1M26 11h1M43 11h1M66 11h1M18 12h1M26 12h1M43 12h1M66 12h1M18 13h1M26 13h1M43 13h1M66 13h1M18 14h1M26 14h1M43 14h1M66 14h1M18 15h1M26 15h1M43 15h1M66 15h1M18 16h1M26 16h1M43 16h1M66 16h1M18 17h1M26 17h1M43 17h1M66 17h1M18 18h1M26 18h1M43 18h1M66 18h1M18 19h1M26 19h1M43 19h1M66 19h1M18 20h1M26 20h1M43 20h1M66 20h1M18 21h1M26 21h1M43 21h1M66 21h1M18 22h1M26 22h1M43 22h1M66 22h1M18 23h1M26 23h1M43 23h1M66 23h1M18 24h1M26 24h1M43 24h1M66 24h1M18 25h1M26 25h1M43 25h1M66 25h1M18 26h1M26 26h1M43 26h1M66 26h1M18 27h1M26 27h1M43 27h1M66 27h1M18 28h1M26 28h1M43 28h1M66 28h1M18 29h1M26 29h1M43 29h1M66 29h1M18 30h1M26 30h1M43 30h1M66 30h1M18 31h1M26 31h1M43 31h1M66 31h1M18 32h1M26 32h1M43 32h1M66 32h1M18 33h1M26 33h1M43 33h1M66 33h1M18 34h1M26 34h1M43 34h1M66 34h1M18 35h1M26 35h1M43 35h1M66 35h1M18 36h1M26 36h1M43 36h1M66 36h1M18 37h1M26 37h1M43 37h1M66 37h1M18 38h1M26 38h1M43 38h1M66 38h1M18 39h1M26 39h1M43 39h1M66 39h1M18 40h1M26 40h1M43 40h1M66 40h1M18 41h1M26 41h1M43 41h1M66 41h1M18 42h1M26 42h1M43 42h1M66 42h1M18 43h1M26 43h1M43 43h1M66 43h1M18 44h1M26 44h1M43 44h1M66 44h1M18 45h1M26 45h1M43 45h1M66 45h1M18 46h1M26 46h1M43 46h1M66 46h1M18 47h1M26 47h1M43 47h1M66 47h1M18 48h1M26 48h1M43 48h1M66 48h1M18 49h1M26 49h1M43 49h1M66 49h1M18 50h1M26 50h1M43 50h1M66 50h1M18 51h1M26 51h1M43 51h1M66 51h1M18 52h1M26 52h1M43 52h1M66 52h1M18 53h1M26 53h1M43 53h1M66 53h1M18 54h1M26 54h1M43 54h1M66 54h1M18 55h1M26 55h1M43 55h1M66 55h1M18 56h1M26 56h1M43 56h1M66 56h1M18 57h1M26 57h1M43 57h1M66 57h1M18 58h1M26 58h1M43 58h1M66 58h1M18 59h1M26 59h1M43 59h1M66 59h1M18 60h1M26 60h1M43 60h1M66 60h1M18 61h1M26 61h1M43 61h1M66 61h1M18 62h1M26 62h1M43 62h1M66 62h1M18 63h1M26 63h1M43 63h1M66 63h1M18 64h1M26 64h1M43 64h1M66 64h1M18 65h1M26 65h1M43 65h1M66 65h1M18 66h1M26 66h1M43 66h1M66 66h1M18 67h1M27 67h1M43 67h1M66 67h1M18 68h1M27 68h1M42 68h1M65 68h1M0 69h17M18 69h9M28 69h14M45 69h20M68 69h68M17 70h2M26 70h1M43 70h2M67 70h1M18 71h1M26 71h1M43 71h1M66 71h1M18 72h1M26 72h1M43 72h1M66 72h1M18 73h1M26 73h1M43 73h1M66 73h1M18 74h1M26 74h1M43 74h1M66 74h1M18 75h1M26 75h1M43 75h1M66 75h1M18 76h1M26 76h1M43 76h1M66 76h1M18 77h1M26 77h1M43 77h1M66 77h1M18 78h1M26 78h1M43 78h1M66 78h1M18 79h1M26 79h1M43 79h1M66 79h1M18 80h1M26 80h1M43 80h1M66 80h1M18 81h1M26 81h1M43 81h1M66 81h1M18 82h1M26 82h1M43 82h1M66 82h1M18 83h1M26 83h1M43 83h1M66 83h1M18 84h1M26 84h1M43 84h1M66 84h1M18 85h1M26 85h1M43 85h1M66 85h1M18 86h1M26 86h1M43 86h1M66 86h1M18 87h1M26 87h1M43 87h1M66 87h1M18 88h1M26 88h1M43 88h1M66 88h1M18 89h1M26 89h1M43 89h1M66 89h1M18 90h1M26 90h1M43 90h1M66 90h1M18 91h1M27 91h1M42 91h1M65 91h1M0 92h16M18 92h7M28 92h14M46 92h19M69 92h67M16 93h3M25 93h1M44 93h2M67 93h2M18 94h1M26 94h1M43 94h1M66 94h1M18 95h1M26 95h1M43 95h1M66 95h1M18 96h1M26 96h1M43 96h1M66 96h1M18 97h1M26 97h1M43 97h1M66 97h1M18 98h1M26 98h1M43 98h1M66 98h1M18 99h1M26 99h1M43 99h1M66 99h1M18 100h1M26 100h1M43 100h1M66 100h1M18 101h1M26 101h1M43 101h1M66 101h1M18 102h1M26 102h1M43 102h1M66 102h1M18 103h1M26 103h1M43 103h1M66 103h1M18 104h1M26 104h1M43 104h1M66 104h1M18 105h1M26 105h1M43 105h1M66 105h1M18 106h1M26 106h1M43 106h1M66 106h1M18 107h1M25 107h1M43 107h1M66 107h1M15 108h4M24 108h2M44 108h1M67 108h1M0 109h15M18 109h6M28 109h14M45 109h20M68 109h68M18 110h1M27 110h1M42 110h1M65 110h1M18 111h1M27 111h1M43 111h1M66 111h1M18 112h1M26 112h1M43 112h1M66 112h1M18 113h1M26 113h1M43 113h1M66 113h1M18 114h1M26 114h1M43 114h1M66 114h1M18 115h1M26 115h1M43 115h1M66 115h1M18 116h1M26 116h1M43 116h1M65 116h1M0 117h27M28 117h15M46 117h19M69 117h67M18 118h1M27 118h1M45 118h1M67 118h2M18 119h1M26 119h1M44 119h1M66 119h1M18 120h1M26 120h1M43 120h1M66 120h1M18 121h1M26 121h1M43 121h1M66 121h1M18 122h1M26 122h1M43 122h1M66 122h1M18 123h1M26 123h1M43 123h1M66 123h1M18 124h1M26 124h1M43 124h1M66 124h1M18 125h1M26 125h1M43 125h1M66 125h1M18 126h1M26 126h1M43 126h1M66 126h1M18 127h1M26 127h1M43 127h1M66 127h1M18 128h1M26 128h1M43 128h1M66 128h1M18 129h1M26 129h1M43 129h1M66 129h1M18 130h1M26 130h1M43 130h1M66 130h1M18 131h1M26 131h1M43 131h1M66 131h1M18 132h1M26 132h1M43 132h1M66 132h1M18 133h1M26 133h1M43 133h1M66 133h1M18 134h1M26 134h1M43 134h1M66 134h1M18 135h1M26 135h1M43 135h1M66 135h1" fill="none" stroke="#fff" stroke-width="1" shape-rendering="crispEdges"/>
<g transform="translate(249.5,199.5)">
<rect x="0" y="0" width="135" height="135" fill="#00008f"/>
<g clip-path="url(#clip1)" shape-rendering="crispEdges">
<path d="M131.0,41.9 L129.3,46.0 L127.1,49.9 L124.3,53.4 L121.0,56.5 L117.3,59.0 L113.2,60.9 L109.0,62.3 L104.5,62.9 L100.0,62.9 L95.6,62.2 L91.3,60.9 L87.3,59.0 L83.6,56.4 L80.3,53.4 L77.5,49.9 L75.3,46.0 L73.6,41.8 L72.6,37.4 L72.3,33.0 L72.6,28.5 L73.6,24.1 L75.3,20.0 L77.5,16.1 L80.3,12.6 L83.6,9.5 L87.3,7.0 L91.4,5.1 L95.6,3.7 L100.1,3.1 L104.6,3.1 L109.0,3.8 L113.3,5.1 L117.3,7.0 L121.0,9.6 L124.3,12.6 L127.1,16.1 L129.3,20.0 L131.0,24.2 L132.0,28.6 L132.3,33.0 L132.0,37.5Z" fill="#0000ff"/>
<path d="M126.7,40.5 L125.0,44.7 L122.6,48.4 L119.6,51.7 L116.1,54.4 L112.2,56.5 L108.0,57.9 L103.6,58.5 L99.1,58.3 L94.8,57.4 L90.6,55.7 L86.9,53.3 L83.6,50.3 L80.9,46.8 L78.8,42.9 L77.4,38.7 L76.8,34.3 L77.0,29.8 L77.9,25.5 L79.6,21.3 L82.0,17.6 L85.0,14.3 L88.5,11.6 L92.4,9.5 L96.6,8.1 L101.0,7.5 L105.5,7.7 L109.8,8.6 L114.0,10.3 L117.7,12.7 L121.0,15.7 L123.7,19.2 L125.8,23.1 L127.2,27.3 L127.8,31.7 L127.6,36.2Z" fill="#0058ff"/>
<path d="M123.4,39.5 L121.7,43.6 L119.1,47.3 L115.9,50.4 L112.1,52.8 L107.9,54.4 L103.5,55.1 L99.0,54.9 L94.7,53.8 L90.7,51.8 L87.1,49.1 L84.2,45.7 L82.0,41.8 L80.7,37.5 L80.2,33.1 L80.6,28.6 L82.0,24.4 L84.1,20.4 L87.0,17.0 L90.5,14.3 L94.5,12.3 L98.9,11.2 L103.3,10.9 L107.8,11.6 L112.0,13.1 L115.8,15.5 L119.0,18.5 L121.6,22.2 L123.4,26.3 L124.3,30.7 L124.3,35.1Z" fill="#00b8ff"/>
<path d="M120.6,38.7 L118.8,42.8 L116.1,46.3 L112.7,49.1 L108.7,51.1 L104.4,52.1 L99.9,52.0 L95.6,51.0 L91.6,48.9 L88.2,46.0 L85.6,42.4 L83.9,38.3 L83.1,33.9 L83.4,29.5 L84.7,25.2 L87.0,21.4 L90.1,18.2 L93.8,15.8 L98.0,14.3 L102.5,13.8 L106.9,14.4 L111.1,15.9 L114.8,18.4 L117.8,21.7 L120.0,25.6 L121.2,29.8 L121.5,34.3Z" fill="#14ffeb"/>
<path d="M118.0,37.8 L116.1,41.9 L113.2,45.3 L109.5,47.8 L105.2,49.1 L100.7,49.3 L96.4,48.3 L92.5,46.1 L89.3,43.0 L87.1,39.1 L86.0,34.8 L86.1,30.3 L87.4,26.1 L89.9,22.3 L93.2,19.4 L97.2,17.4 L101.6,16.6 L106.1,17.0 L110.2,18.6 L113.8,21.3 L116.5,24.9 L118.2,29.0 L118.7,33.4Z" fill="#87ff78"/>
<path d="M115.2,37.0 L113.2,41.0 L110.0,44.1 L106.0,46.0 L101.6,46.5 L97.3,45.5 L93.5,43.2 L90.6,39.8 L89.1,35.6 L88.9,31.2 L90.2,26.9 L92.9,23.4 L96.5,20.8 L100.8,19.6 L105.2,19.8 L109.3,21.5 L112.7,24.4 L114.9,28.2 L115.8,32.6Z" fill="#ebff14"/>
<path d="M112.4,36.1 L110.3,40.0 L106.7,42.6 L102.5,43.6 L98.1,42.7 L94.5,40.2 L92.3,36.4 L91.7,32.0 L93.0,27.8 L95.9,24.5 L99.9,22.7 L104.4,22.6 L108.4,24.3 L111.4,27.6 L112.8,31.7Z" fill="#ffbf00"/>
<path d="M109.8,35.3 L107.3,39.0 L103.3,40.7 L99.0,40.0 L95.7,37.1 L94.5,32.9 L95.8,28.7 L99.2,25.9 L103.5,25.3 L107.5,27.2 L109.8,30.9Z" fill="#ff5500"/>
<path d="M97.0,32.5 L102.5,29.5 L106.0,33.0 L101.5,38.0Z" fill="#ff0000"/>
</g>
<rect x="0" y="0" width="135" height="135" fill="none" stroke="#000" stroke-width="1" shape-rendering="crispEdges"/>
</g>
<path transform="translate(249,199.5)" d="M98 3h9M94 4h4M107 4h4M90 5h4M111 5h3M88 6h2M114 6h2M87 7h1M116 7h2M86 8h1M95 8h13M118 8h1M85 9h1M92 9h3M108 9h4M119 9h2M84 10h1M90 10h2M112 10h3M121 10h1M82 11h2M89 11h1M97 11h9M115 11h1M122 11h1M81 12h1M88 12h1M94 12h3M106 12h4M116 12h2M123 12h1M80 13h1M86 13h2M92 13h2M110 13h3M118 13h1M124 13h1M79 14h1M85 14h1M91 14h1M97 14h11M113 14h2M119 14h1M125 14h1M79 15h1M84 15h1M89 15h2M95 15h2M108 15h2M115 15h2M120 15h1M126 15h1M78 16h1M84 16h1M88 16h1M93 16h2M110 16h2M117 16h1M121 16h1M127 16h1M77 17h1M83 17h1M87 17h1M91 17h2M96 17h11M112 17h2M118 17h1M122 17h1M128 17h1M77 18h1M82 18h1M86 18h1M90 18h1M94 18h2M107 18h2M114 18h2M118 18h1M123 18h1M128 18h1M76 19h1M81 19h1M85 19h1M89 19h1M93 19h1M109 19h2M116 19h1M119 19h1M124 19h1M129 19h1M75 20h1M81 20h1M84 20h1M88 20h1M92 20h1M99 20h8M111 20h2M117 20h1M120 20h1M125 20h1M129 20h1M75 21h1M80 21h1M84 21h1M87 21h1M91 21h1M96 21h3M107 21h3M113 21h2M117 21h1M121 21h1M125 21h1M130 21h1M75 22h1M80 22h1M83 22h1M87 22h1M90 22h1M94 22h2M110 22h1M115 22h1M118 22h1M122 22h1M126 22h1M130 22h1M74 23h1M79 23h1M83 23h1M86 23h1M89 23h1M93 23h1M99 23h7M111 23h2M116 23h1M119 23h1M122 23h1M126 23h1M131 23h1M74 24h1M79 24h1M82 24h1M86 24h1M89 24h1M92 24h1M97 24h2M106 24h3M113 24h1M116 24h1M119 24h1M123 24h1M126 24h1M131 24h1M74 25h1M78 25h1M82 25h1M85 25h1M88 25h1M92 25h1M96 25h1M102 25h3M109 25h1M114 25h1M117 25h1M120 25h1M123 25h1M127 25h1M131 25h1M74 26h1M78 26h1M82 26h1M85 26h1M87 26h1M91 26h1M95 26h1M99 26h3M105 26h2M110 26h1M114 26h1M117 26h1M120 26h1M123 26h1M127 26h1M131 26h1M73 27h1M78 27h1M81 27h1M84 27h1M87 27h1M90 27h1M94 27h1M98 27h1M107 27h1M110 27h1M115 27h1M118 27h1M120 27h1M123 27h1M127 27h1M132 27h1M73 28h1M77 28h1M81 28h1M84 28h1M87 28h1M90 28h1M93 28h1M97 28h1M108 28h1M111 28h1M115 28h1M118 28h1M121 28h1M123 28h1M127 28h1M132 28h1M73 29h1M77 29h1M81 29h1M83 29h1M86 29h1M90 29h1M93 29h1M96 29h1M109 29h1M112 29h1M115 29h1M118 29h1M121 29h1M124 29h1M127 29h1M132 29h1M73 30h1M77 30h1M81 30h1M83 30h1M86 30h1M89 30h1M93 30h1M96 30h1M102 30h2M109 30h1M112 30h1M115 30h1M118 30h1M121 30h1M124 30h1M128 30h1M132 30h1M73 31h1M77 31h1M81 31h1M83 31h1M86 31h1M89 31h1M92 31h1M96 31h1M100 31h2M104 31h1M110 31h1M113 31h1M116 31h1M119 31h1M121 31h1M124 31h1M128 31h1M132 31h1M72 32h1M77 32h1M80 32h1M83 32h1M86 32h1M89 32h1M92 32h1M95 32h1M98 32h2M105 32h1M110 32h1M113 32h1M116 32h1M119 32h1M121 32h1M124 32h1M128 32h1M132 32h1M72 33h1M77 33h1M80 33h1M83 33h1M86 33h1M89 33h1M92 33h1M95 33h1M97 33h1M106 33h1M110 33h1M113 33h1M116 33h1M119 33h1M121 33h1M124 33h1M128 33h1M132 33h1M72 34h1M77 34h1M80 34h1M83 34h1M86 34h1M89 34h1M92 34h1M95 34h1M98 34h1M105 34h1M110 34h1M112 34h1M116 34h1M119 34h1M121 34h1M124 34h1M128 34h1M132 34h1M72 35h1M77 35h1M80 35h1M83 35h1M86 35h1M89 35h1M92 35h1M95 35h1M99 35h1M104 35h1M110 35h1M112 35h1M115 35h1M119 35h1M121 35h1M124 35h1M128 35h1M132 35h1M73 36h1M77 36h1M81 36h1M83 36h1M86 36h1M89 36h1M92 36h1M96 36h1M100 36h1M104 36h1M109 36h1M112 36h1M115 36h1M118 36h1M121 36h1M124 36h1M128 36h1M132 36h1M73 37h1M77 37h1M81 37h1M84 37h1M86 37h1M89 37h1M93 37h1M96 37h1M101 37h1M103 37h1M108 37h1M111 37h1M115 37h1M118 37h1M121 37h1M124 37h1M128 37h1M132 37h1M73 38h1M77 38h1M81 38h1M84 38h1M87 38h1M90 38h1M93 38h1M97 38h1M102 38h1M108 38h1M111 38h1M114 38h1M118 38h1M121 38h1M123 38h1M128 38h1M132 38h1M73 39h1M77 39h1M81 39h1M84 39h1M87 39h1M90 39h1M94 39h1M98 39h1M107 39h1M110 39h1M114 39h1M117 39h1M121 39h1M123 39h1M127 39h1M132 39h1M74 40h1M77 40h1M81 40h1M85 40h1M87 40h1M91 40h1M95 40h1M99 40h3M105 40h2M110 40h1M113 40h1M117 40h1M120 40h1M123 40h1M127 40h1M131 40h1M74 41h1M78 41h1M82 41h1M85 41h1M88 41h1M92 41h1M96 41h1M102 41h3M109 41h1M113 41h1M116 41h1M120 41h1M123 41h1M127 41h1M131 41h1M74 42h1M78 42h1M82 42h1M86 42h1M88 42h1M92 42h1M97 42h1M108 42h1M112 42h1M116 42h1M119 42h1M122 42h1M126 42h1M131 42h1M74 43h1M79 43h1M82 43h1M86 43h1M89 43h1M93 43h1M98 43h3M105 43h3M111 43h1M115 43h1M119 43h1M122 43h1M126 43h1M130 43h1M74 44h1M79 44h1M83 44h1M87 44h1M90 44h1M94 44h2M101 44h4M110 44h1M114 44h1M118 44h1M122 44h1M125 44h1M130 44h1M75 45h1M80 45h1M83 45h1M87 45h1M91 45h1M96 45h1M108 45h2M113 45h1M117 45h1M121 45h1M125 45h1M129 45h1M75 46h1M80 46h1M84 46h1M88 46h1M92 46h2M97 46h11M112 46h1M116 46h1M120 46h1M124 46h1M129 46h1M75 47h1M81 47h1M85 47h1M89 47h2M94 47h2M110 47h2M115 47h1M119 47h1M124 47h1M128 47h1M76 48h1M82 48h1M86 48h1M91 48h1M96 48h3M108 48h2M114 48h1M118 48h1M123 48h1M128 48h1M76 49h1M83 49h1M87 49h1M92 49h2M99 49h9M113 49h1M117 49h1M122 49h1M127 49h1M77 50h1M84 50h1M88 50h2M94 50h2M111 50h2M116 50h1M121 50h1M127 50h1M78 51h1M85 51h1M90 51h1M96 51h3M107 51h4M115 51h1M121 51h1M126 51h1M79 52h1M86 52h1M91 52h2M99 52h8M113 52h2M120 52h1M125 52h1M80 53h1M87 53h1M93 53h2M111 53h2M118 53h2M124 53h1M81 54h2M88 54h2M95 54h3M107 54h4M116 54h2M123 54h1M83 55h1M90 55h1M98 55h9M115 55h1M122 55h1M84 56h1M91 56h3M113 56h2M121 56h1M85 57h1M94 57h4M111 57h2M120 57h1M86 58h1M98 58h13M118 58h2M87 59h2M117 59h1M89 60h2M115 60h2M91 61h3M112 61h3M94 62h5M108 62h4M99 63h9" fill="none" stroke="#000" stroke-width="1" shape-rendering="crispEdges"/>
<path transform="translate(249,199.5)" d="M10 0h1M31 0h1M44 0h1M61 0h1M10 1h1M31 1h1M44 1h1M61 1h1M10 2h1M31 2h1M44 2h1M61 2h1M10 3h1M31 3h1M44 3h1M61 3h1M10 4h1M31 4h1M44 4h1M61 4h1M10 5h1M31 5h1M44 5h1M61 5h1M10 6h1M31 6h1M44 6h1M61 6h1M10 7h1M31 7h1M44 7h1M61 7h1M10 8h1M31 8h1M44 8h1M61 8h1M10 9h1M31 9h1M44 9h1M61 9h1M10 10h1M31 10h1M44 10h1M61 10h1M10 11h1M31 11h1M44 11h1M61 11h1M10 12h1M31 12h1M44 12h1M61 12h1M10 13h1M31 13h1M44 13h1M61 13h1M10 14h1M31 14h1M44 14h1M61 14h1M10 15h1M31 15h1M44 15h1M61 15h1M10 16h1M31 16h1M44 16h1M61 16h1M10 17h1M31 17h1M44 17h1M61 17h1M10 18h1M31 18h1M44 18h1M61 18h1M10 19h1M31 19h1M44 19h1M61 19h1M10 20h1M31 20h1M44 20h1M61 20h1M10 21h1M31 21h1M44 21h1M61 21h1M10 22h1M31 22h1M44 22h1M61 22h1M10 23h1M31 23h1M44 23h1M61 23h1M10 24h1M31 24h1M44 24h1M61 24h1M10 25h1M31 25h1M44 25h1M61 25h1M10 26h1M31 26h1M44 26h1M61 26h1M10 27h1M31 27h1M44 27h1M61 27h1M10 28h1M31 28h1M44 28h1M61 28h1M10 29h1M31 29h1M44 29h1M61 29h1M10 30h1M31 30h1M44 30h1M61 30h1M10 31h1M31 31h1M44 31h1M61 31h1M10 32h1M31 32h1M44 32h1M61 32h1M10 33h1M31 33h1M44 33h1M61 33h1M10 34h1M31 34h1M44 34h1M61 34h1M10 35h1M31 35h1M44 35h1M61 35h1M10 36h1M31 36h1M44 36h1M61 36h1M10 37h1M31 37h1M44 37h1M61 37h1M10 38h1M31 38h1M44 38h1M61 38h1M10 39h1M31 39h1M44 39h1M61 39h1M10 40h1M31 40h1M44 40h1M61 40h1M10 41h1M31 41h1M44 41h1M61 41h1M10 42h1M31 42h1M44 42h1M61 42h1M10 43h1M31 43h1M44 43h1M61 43h1M10 44h1M31 44h1M44 44h1M61 44h1M10 45h1M31 45h1M44 45h1M61 45h1M10 46h1M31 46h1M44 46h1M61 46h1M10 47h1M31 47h1M44 47h1M61 47h1M10 48h1M31 48h1M44 48h1M61 48h1M10 49h1M31 49h1M44 49h1M61 49h1M10 50h1M31 50h1M44 50h1M61 50h1M10 51h1M31 51h1M44 51h1M61 51h1M10 52h1M31 52h1M44 52h1M61 52h1M10 53h1M31 53h1M44 53h1M61 53h1M10 54h1M31 54h1M44 54h1M61 54h1M10 55h1M31 55h1M44 55h1M61 55h1M10 56h1M31 56h1M44 56h1M61 56h1M10 57h1M31 57h1M44 57h1M61 57h1M10 58h1M31 58h1M44 58h1M61 58h1M10 59h1M31 59h1M44 59h1M61 59h1M10 60h1M31 60h1M44 60h1M61 60h1M10 61h1M31 61h1M44 61h1M61 61h1M10 62h1M31 62h1M44 62h1M61 62h1M10 63h1M31 63h1M44 63h1M61 63h1M10 64h1M31 64h1M44 64h1M61 64h1M10 65h1M31 65h1M44 65h1M61 65h1M10 66h1M31 66h1M44 66h1M61 66h1M10 67h1M31 67h1M44 67h1M61 67h1M10 68h1M31 68h1M44 68h1M61 68h1M10 69h1M31 69h1M44 69h1M61 69h1M10 70h1M31 70h1M44 70h1M61 70h1M10 71h1M31 71h1M44 71h1M61 71h1M9 72h1M32 72h1M43 72h1M61 72h1M9 73h1M33 73h1M42 73h1M61 73h1M0 74h9M11 74h20M34 74h8M45 74h16M63 74h73M10 75h1M31 75h1M44 75h1M62 75h1M10 76h1M31 76h1M44 76h1M61 76h1M10 77h1M31 77h1M44 77h1M61 77h1M10 78h1M31 78h1M44 78h1M61 78h1M10 79h1M31 79h1M44 79h1M61 79h1M10 80h1M31 80h1M44 80h1M61 80h1M10 81h1M31 81h1M44 81h1M61 81h1M10 82h1M31 82h1M44 82h1M61 82h1M10 83h1M31 83h1M44 83h1M61 83h1M10 84h1M31 84h1M44 84h1M61 84h1M10 85h1M31 85h1M44 85h1M61 85h1M10 86h1M31 86h1M44 86h1M61 86h1M10 87h1M31 87h1M44 87h1M61 87h1M10 88h1M31 88h1M44 88h1M61 88h1M10 89h1M31 89h1M44 89h1M61 89h1M10 90h1M32 90h1M43 90h1M61 90h1M0 91h10M13 91h16M33 91h10M47 91h15M66 91h70M12 92h1M29 92h1M45 92h2M63 92h3M11 93h1M30 93h1M44 93h1M62 93h1M10 94h1M31 94h1M44 94h1M61 94h1M10 95h1M31 95h1M44 95h1M61 95h1M10 96h1M31 96h1M44 96h1M61 96h1M10 97h1M31 97h1M44 97h1M61 97h1M10 98h1M31 98h1M44 98h1M61 98h1M10 99h1M31 99h1M44 99h1M61 99h1M10 100h1M31 100h1M44 100h1M61 100h1M10 101h1M31 101h1M44 101h1M61 101h1M10 102h1M31 102h1M44 102h1M61 102h1M10 103h1M30 103h1M45 103h1M62 103h1M9 104h1M29 104h1M46 104h1M63 104h2M0 105h9M13 105h16M33 105h10M47 105h15M65 105h71M11 106h2M32 106h1M43 106h1M61 106h1M10 107h1M31 107h1M44 107h1M61 107h1M10 108h1M31 108h1M44 108h1M61 108h1M10 109h1M31 109h1M44 109h1M61 109h1M10 110h1M31 110h1M44 110h1M61 110h1M10 111h1M31 111h1M44 111h1M61 111h1M10 112h1M31 112h1M44 112h1M61 112h1M10 113h1M31 113h1M44 113h1M61 113h1M10 114h1M31 114h1M44 114h1M61 114h1M10 115h1M31 115h1M44 115h1M61 115h1M10 116h1M31 116h1M44 116h1M61 116h1M10 117h1M31 117h1M44 117h1M61 117h1M10 118h1M31 118h1M44 118h1M61 118h1M10 119h1M31 119h1M44 119h1M61 119h1M10 120h1M31 120h1M44 120h1M61 120h1M10 121h1M31 121h1M44 121h1M61 121h1M10 122h1M31 122h1M44 122h1M61 122h1M10 123h1M31 123h1M43 123h1M61 123h1M9 124h1M32 124h1M43 124h1M61 124h1M9 125h1M32 125h1M42 125h1M61 125h1M0 126h9M10 126h22M33 126h9M44 126h92M10 127h1M31 127h1M44 127h1M61 127h1M10 128h1M31 128h1M44 128h1M61 128h1M10 129h1M31 129h1M44 129h1M61 129h1M10 130h1M31 130h1M44 130h1M61 130h1M10 131h1M31 131h1M44 131h1M61 131h1M10 132h1M31 132h1M44 132h1M61 132h1M10 133h1M31 133h1M44 133h1M61 133h1M10 134h1M31 134h1M44 134h1M61 134h1M10 135h1M31 135h1M44 135h1M61 135h1" fill="none" stroke="#fff" stroke-width="1" shape-rendering="crispEdges"/>
<g transform="translate(476.5,199.5)">
<rect x="-0.5" y="0" width="134.5" height="135" fill="#00008f"/>
<g clip-path="url(#clip2)" shape-rendering="crispEdges">
<path d="M94.5,1.5 L99.0,1.2 L103.4,1.7 L107.7,3.1 L111.6,5.3 L115.3,7.7 L118.9,10.5 L122.0,13.6 L124.9,17.0 L127.7,20.6 L129.7,24.5 L131.3,28.8 L132.4,33.2 L132.2,37.6 L130.7,41.8 L128.4,45.7 L125.7,49.2 L122.6,52.5 L119.1,55.3 L115.3,57.6 L111.2,59.5 L107.0,60.9 L102.6,61.8 L98.1,62.0 L93.7,61.4 L89.4,60.1 L85.4,58.1 L81.9,55.3 L78.7,52.2 L75.9,48.7 L74.1,44.6 L73.2,40.2 L73.0,35.7 L73.1,31.2 L73.5,26.8 L74.4,22.4 L75.6,18.0 L77.1,13.8 L79.4,10.0 L82.4,6.6 L85.9,3.8 L90.0,2.2Z" fill="#0000ff"/>
<path d="M94.5,8.5 L99.0,8.2 L103.5,8.7 L107.7,10.1 L111.6,12.3 L115.2,15.1 L118.4,18.2 L121.2,21.7 L123.8,25.4 L125.8,29.4 L126.9,33.8 L126.7,38.2 L125.3,42.5 L122.9,46.3 L119.8,49.6 L116.3,52.4 L112.5,54.7 L108.4,56.5 L104.0,57.7 L99.6,58.0 L95.1,57.6 L90.6,56.8 L86.6,54.9 L83.1,52.1 L80.0,48.8 L77.9,44.9 L76.6,40.5 L76.0,36.1 L76.4,31.6 L77.4,27.2 L78.8,22.9 L80.6,18.8 L83.0,15.1 L86.3,11.9 L90.2,9.7Z" fill="#0058ff"/>
<path d="M120.8,28.6 L118.5,24.1 L115.2,20.4 L111.4,17.5 L107.1,15.4 L102.5,14.2 L97.9,14.0 L93.3,14.9 L89.1,16.7 L85.4,19.3 L82.4,22.6 L80.2,26.5 L78.9,30.7 L78.5,35.0 L78.9,39.3 L80.3,43.4 L82.4,47.1 L85.4,50.2 L88.9,52.6 L92.8,54.1 L97.0,54.9 L101.2,54.9 L105.4,54.3 L109.6,52.8 L113.5,50.5 L117.1,47.3 L119.9,43.3 L121.6,38.6 L122.0,33.5Z" fill="#00b8ff"/>
<path d="M117.4,29.6 L115.1,25.5 L111.9,22.1 L108.1,19.7 L104.0,18.1 L99.6,17.5 L95.3,17.8 L91.2,19.1 L87.4,21.3 L84.3,24.4 L82.1,28.1 L80.8,32.2 L80.5,36.5 L81.4,40.8 L83.2,44.7 L85.9,48.0 L89.4,50.5 L93.3,52.2 L97.4,52.9 L101.6,52.8 L105.8,51.9 L109.8,50.0 L113.4,47.2 L116.2,43.5 L118.0,39.1 L118.5,34.3Z" fill="#14ffeb"/>
<path d="M114.6,30.5 L112.2,26.4 L108.9,23.2 L104.8,21.1 L100.5,20.1 L96.1,20.2 L91.9,21.5 L88.2,23.9 L85.3,27.3 L83.6,31.3 L83.0,35.7 L83.7,40.1 L85.6,44.1 L88.5,47.4 L92.3,49.7 L96.5,50.8 L100.9,50.9 L105.3,49.8 L109.2,47.5 L112.5,44.2 L114.7,40.0 L115.5,35.3Z" fill="#87ff78"/>
<path d="M111.8,31.4 L109.3,27.3 L105.7,24.3 L101.4,22.7 L96.9,22.6 L92.6,24.0 L89.0,26.7 L86.5,30.5 L85.5,34.9 L86.1,39.3 L88.1,43.4 L91.5,46.4 L95.6,48.1 L100.1,48.4 L104.5,47.3 L108.4,44.7 L111.2,40.9 L112.5,36.2Z" fill="#ebff14"/>
<path d="M109.0,32.3 L106.6,28.4 L102.9,25.9 L98.6,25.0 L94.4,25.9 L90.8,28.4 L88.6,32.1 L88.0,36.4 L89.3,40.6 L92.2,43.9 L96.2,45.7 L100.5,45.8 L104.6,44.2 L107.8,41.1 L109.4,36.8Z" fill="#ffbf00"/>
<path d="M106.1,33.2 L103.5,29.6 L99.5,28.1 L95.2,28.6 L91.8,31.4 L90.5,35.6 L92.0,39.8 L95.5,42.4 L99.7,42.9 L103.6,41.3 L106.2,37.6Z" fill="#ff5500"/>
<path d="M102.3,34.3 L100.4,32.0 L97.3,31.8 L95.3,33.8 L95.2,36.5 L96.9,38.6 L99.6,38.9 L101.9,37.3Z" fill="#ff0000"/>
</g>
<path d="M-0.5,0H134.5M134,0V135M-0.5,135H134.5" fill="none" stroke="#000" stroke-width="1" shape-rendering="crispEdges"/>
</g>
<path transform="translate(476,199.5)" d="M97 1h4M89 2h8M101 2h5M87 3h2M106 3h3M86 4h1M109 4h2M84 5h2M111 5h2M83 6h1M113 6h1M82 7h1M114 7h1M81 8h1M97 8h4M115 8h1M80 9h1M93 9h4M101 9h5M116 9h2M79 10h1M89 10h4M106 10h3M118 10h2M79 11h1M87 11h2M109 11h2M120 11h1M78 12h1M86 12h1M111 12h2M121 12h1M78 13h1M85 13h1M113 13h1M121 13h1M77 14h1M84 14h1M96 14h10M114 14h1M122 14h1M77 15h1M83 15h1M93 15h3M106 15h3M115 15h1M123 15h1M77 16h1M83 16h1M91 16h2M109 16h2M116 16h1M124 16h1M76 17h1M82 17h1M89 17h2M111 17h1M117 17h1M125 17h1M76 18h1M82 18h1M87 18h2M94 18h12M112 18h2M118 18h1M126 18h1M76 19h1M81 19h1M85 19h2M91 19h3M106 19h2M114 19h1M119 19h1M127 19h1M75 20h1M81 20h1M84 20h1M89 20h2M96 20h7M108 20h2M115 20h1M120 20h1M127 20h1M75 21h1M80 21h1M83 21h1M87 21h2M94 21h2M103 21h4M110 21h2M116 21h1M120 21h1M128 21h1M74 22h1M80 22h1M83 22h1M86 22h1M92 22h2M107 22h2M112 22h1M116 22h1M121 22h1M129 22h1M74 23h1M79 23h1M82 23h1M85 23h1M90 23h2M96 23h8M109 23h1M113 23h1M117 23h1M122 23h1M129 23h1M74 24h1M79 24h1M81 24h1M84 24h1M88 24h2M93 24h3M104 24h3M110 24h1M113 24h1M118 24h1M123 24h1M130 24h1M74 25h1M78 25h1M81 25h1M83 25h1M87 25h1M92 25h1M97 25h5M107 25h1M111 25h1M114 25h1M119 25h1M124 25h1M130 25h1M74 26h1M78 26h1M80 26h1M83 26h1M86 26h1M90 26h2M94 26h3M102 26h3M108 26h1M112 26h1M115 26h1M119 26h1M125 26h1M130 26h1M74 27h1M77 27h1M80 27h1M82 27h1M85 27h1M89 27h1M92 27h2M105 27h2M109 27h1M113 27h1M115 27h1M120 27h1M125 27h1M131 27h1M74 28h1M77 28h1M80 28h1M82 28h1M85 28h1M88 28h1M91 28h1M98 28h3M107 28h1M110 28h1M113 28h1M116 28h1M120 28h1M126 28h1M131 28h1M74 29h1M77 29h1M79 29h1M82 29h1M84 29h1M88 29h1M90 29h1M95 29h3M101 29h2M107 29h1M110 29h1M114 29h1M116 29h1M121 29h1M126 29h1M131 29h1M73 30h1M76 30h1M79 30h1M81 30h1M84 30h1M87 30h1M90 30h1M93 30h2M103 30h1M108 30h1M111 30h1M114 30h1M117 30h1M121 30h1M126 30h1M131 30h1M73 31h1M76 31h1M79 31h1M81 31h1M84 31h1M87 31h1M89 31h1M92 31h1M104 31h1M108 31h1M112 31h1M115 31h1M117 31h1M121 31h1M126 31h1M132 31h1M73 32h1M76 32h1M79 32h1M81 32h1M84 32h1M87 32h1M89 32h1M92 32h1M97 32h4M105 32h1M109 32h1M112 32h1M115 32h1M117 32h1M122 32h1M127 32h1M132 32h1M73 33h1M76 33h1M78 33h1M81 33h1M84 33h1M86 33h1M89 33h1M92 33h1M96 33h1M101 33h1M106 33h1M109 33h1M112 33h1M115 33h1M118 33h1M122 33h1M127 33h1M132 33h1M73 34h1M76 34h1M78 34h1M81 34h1M83 34h1M86 34h1M88 34h1M91 34h1M95 34h1M102 34h1M106 34h1M109 34h1M112 34h1M115 34h1M118 34h1M122 34h1M127 34h1M132 34h1M73 35h1M76 35h1M78 35h1M81 35h1M83 35h1M86 35h1M88 35h1M91 35h1M95 35h1M102 35h1M106 35h1M109 35h1M112 35h1M115 35h1M118 35h1M122 35h1M127 35h1M132 35h1M73 36h1M76 36h1M78 36h1M81 36h1M83 36h1M86 36h1M88 36h1M91 36h1M95 36h1M102 36h1M106 36h1M109 36h1M112 36h1M115 36h1M118 36h1M122 36h1M127 36h1M132 36h1M73 37h1M76 37h1M79 37h1M81 37h1M83 37h1M86 37h1M88 37h1M91 37h1M95 37h1M102 37h1M106 37h1M109 37h1M112 37h1M115 37h1M118 37h1M122 37h1M127 37h1M132 37h1M73 38h1M76 38h1M79 38h1M81 38h1M84 38h1M86 38h1M88 38h1M92 38h1M96 38h1M101 38h1M106 38h1M109 38h1M112 38h1M115 38h1M118 38h1M122 38h1M127 38h1M132 38h1M73 39h1M77 39h1M79 39h1M81 39h1M84 39h1M86 39h1M89 39h1M92 39h1M97 39h4M105 39h1M109 39h1M111 39h1M115 39h1M118 39h1M122 39h1M127 39h1M132 39h1M73 40h1M77 40h1M79 40h1M81 40h1M84 40h1M87 40h1M89 40h1M92 40h1M105 40h1M108 40h1M111 40h1M115 40h1M118 40h1M122 40h1M126 40h1M131 40h1M73 41h1M77 41h1M80 41h2M85 41h1M87 41h1M89 41h1M93 41h2M103 41h2M108 41h1M111 41h1M115 41h1M117 41h1M121 41h1M126 41h1M131 41h1M73 42h1M77 42h1M80 42h1M82 42h1M85 42h1M88 42h1M90 42h1M95 42h3M101 42h2M107 42h1M110 42h1M114 42h1M117 42h1M121 42h1M125 42h1M131 42h1M74 43h1M77 43h1M80 43h1M82 43h1M86 43h1M88 43h1M91 43h1M98 43h3M106 43h1M110 43h1M114 43h1M116 43h1M120 43h1M125 43h1M130 43h1M74 44h1M78 44h1M81 44h1M83 44h1M86 44h1M89 44h1M92 44h1M104 44h2M109 44h1M113 44h1M116 44h1M119 44h1M124 44h1M129 44h1M74 45h1M78 45h1M81 45h1M83 45h1M87 45h1M90 45h1M93 45h2M102 45h2M108 45h1M112 45h1M115 45h1M119 45h1M124 45h1M129 45h1M74 46h1M78 46h1M82 46h1M84 46h1M88 46h1M91 46h2M95 46h7M106 46h2M111 46h1M114 46h1M118 46h1M123 46h1M128 46h1M75 47h1M79 47h1M82 47h1M85 47h1M89 47h1M93 47h2M103 47h3M110 47h1M113 47h1M117 47h1M122 47h1M127 47h1M75 48h1M79 48h1M83 48h1M86 48h1M90 48h1M95 48h8M108 48h2M112 48h1M116 48h1M121 48h1M127 48h1M76 49h1M80 49h1M84 49h1M87 49h1M91 49h1M106 49h2M111 49h1M115 49h1M121 49h1M126 49h1M77 50h1M81 50h1M85 50h1M88 50h1M92 50h3M103 50h3M109 50h2M114 50h1M120 50h1M125 50h1M78 51h1M82 51h1M86 51h1M89 51h2M95 51h8M107 51h2M112 51h2M118 51h2M124 51h1M79 52h1M83 52h1M87 52h2M91 52h4M104 52h3M111 52h1M116 52h2M123 52h1M80 53h1M84 53h2M89 53h2M95 53h9M108 53h3M115 53h1M122 53h1M81 54h1M86 54h1M91 54h4M103 54h5M114 54h1M120 54h2M82 55h1M87 55h2M95 55h8M112 55h2M119 55h1M83 56h1M89 56h2M110 56h2M118 56h1M84 57h1M91 57h3M107 57h3M116 57h2M85 58h2M94 58h13M115 58h1M87 59h2M113 59h2M89 60h3M110 60h3M92 61h5M106 61h4M97 62h9" fill="none" stroke="#000" stroke-width="1" shape-rendering="crispEdges"/>
<path transform="translate(476,199.5)" d="M18 0h1M26 0h1M43 0h1M66 0h1M18 1h1M26 1h1M43 1h1M66 1h1M18 2h1M26 2h1M43 2h1M66 2h1M18 3h1M26 3h1M43 3h1M66 3h1M18 4h1M26 4h1M43 4h1M66 4h1M18 5h1M26 5h1M43 5h1M66 5h1M18 6h1M26 6h1M43 6h1M66 6h1M18 7h1M26 7h1M43 7h1M66 7h1M18 8h1M26 8h1M43 8h1M66 8h1M18 9h1M26 9h1M43 9h1M66 9h1M18 10h1M26 10h1M43 10h1M66 10h1M18 11h1M26 11h1M43 11h1M66 11h1M18 12h1M26 12h1M43 12h1M66 12h1M18 13h1M26 13h1M43 13h1M66 13h1M18 14h1M26 14h1M43 14h1M66 14h1M18 15h1M26 15h1M43 15h1M66 15h1M18 16h1M26 16h1M43 16h1M66 16h1M18 17h1M26 17h1M43 17h1M66 17h1M18 18h1M26 18h1M43 18h1M66 18h1M18 19h1M26 19h1M43 19h1M66 19h1M18 20h1M26 20h1M43 20h1M66 20h1M18 21h1M26 21h1M43 21h1M66 21h1M18 22h1M26 22h1M43 22h1M66 22h1M18 23h1M26 23h1M43 23h1M66 23h1M18 24h1M26 24h1M43 24h1M66 24h1M18 25h1M26 25h1M43 25h1M66 25h1M18 26h1M26 26h1M43 26h1M66 26h1M18 27h1M26 27h1M43 27h1M66 27h1M18 28h1M26 28h1M43 28h1M66 28h1M18 29h1M26 29h1M43 29h1M66 29h1M18 30h1M26 30h1M43 30h1M66 30h1M18 31h1M26 31h1M43 31h1M66 31h1M18 32h1M26 32h1M43 32h1M66 32h1M18 33h1M26 33h1M43 33h1M66 33h1M18 34h1M26 34h1M43 34h1M66 34h1M18 35h1M26 35h1M43 35h1M66 35h1M18 36h1M26 36h1M43 36h1M66 36h1M18 37h1M26 37h1M43 37h1M66 37h1M18 38h1M26 38h1M43 38h1M66 38h1M18 39h1M26 39h1M43 39h1M66 39h1M18 40h1M26 40h1M43 40h1M66 40h1M18 41h1M26 41h1M43 41h1M66 41h1M18 42h1M26 42h1M43 42h1M66 42h1M18 43h1M26 43h1M43 43h1M66 43h1M18 44h1M26 44h1M43 44h1M66 44h1M18 45h1M26 45h1M43 45h1M66 45h1M18 46h1M26 46h1M43 46h1M66 46h1M18 47h1M26 47h1M43 47h1M66 47h1M18 48h1M26 48h1M43 48h1M66 48h1M18 49h1M26 49h1M43 49h1M66 49h1M18 50h1M26 50h1M43 50h1M66 50h1M18 51h1M26 51h1M43 51h1M66 51h1M18 52h1M26 52h1M43 52h1M66 52h1M18 53h1M26 53h1M43 53h1M66 53h1M18 54h1M26 54h1M43 54h1M66 54h1M18 55h1M26 55h1M43 55h1M66 55h1M18 56h1M26 56h1M43 56h1M66 56h1M18 57h1M26 57h1M43 57h1M66 57h1M18 58h1M26 58h1M43 58h1M66 58h1M18 59h1M26 59h1M43 59h1M66 59h1M18 60h1M26 60h1M43 60h1M66 60h1M18 61h1M26 61h1M43 61h1M66 61h1M18 62h1M26 62h1M43 62h1M66 62h1M18 63h1M26 63h1M43 63h1M66 63h1M18 64h1M26 64h1M43 64h1M66 64h1M18 65h1M26 65h1M43 65h1M66 65h1M18 66h1M26 66h1M43 66h1M66 66h1M18 67h1M27 67h1M43 67h1M66 67h1M18 68h1M27 68h1M42 68h1M65 68h1M0 69h17M18 69h9M28 69h14M45 69h20M68 69h67M17 70h2M26 70h1M43 70h2M67 70h1M18 71h1M26 71h1M43 71h1M66 71h1M18 72h1M26 72h1M43 72h1M66 72h1M18 73h1M26 73h1M43 73h1M66 73h1M18 74h1M26 74h1M43 74h1M66 74h1M18 75h1M26 75h1M43 75h1M66 75h1M18 76h1M26 76h1M43 76h1M66 76h1M18 77h1M26 77h1M43 77h1M66 77h1M18 78h1M26 78h1M43 78h1M66 78h1M18 79h1M26 79h1M43 79h1M66 79h1M18 80h1M26 80h1M43 80h1M66 80h1M18 81h1M26 81h1M43 81h1M66 81h1M18 82h1M26 82h1M43 82h1M66 82h1M18 83h1M26 83h1M43 83h1M66 83h1M18 84h1M26 84h1M43 84h1M66 84h1M18 85h1M26 85h1M43 85h1M66 85h1M18 86h1M26 86h1M43 86h1M66 86h1M18 87h1M26 87h1M43 87h1M66 87h1M18 88h1M26 88h1M43 88h1M66 88h1M18 89h1M26 89h1M43 89h1M66 89h1M18 90h1M26 90h1M43 90h1M66 90h1M18 91h1M27 91h1M42 91h1M65 91h1M0 92h16M18 92h7M28 92h14M46 92h19M69 92h66M16 93h3M25 93h1M44 93h2M67 93h2M18 94h1M26 94h1M43 94h1M66 94h1M18 95h1M26 95h1M43 95h1M66 95h1M18 96h1M26 96h1M43 96h1M66 96h1M18 97h1M26 97h1M43 97h1M66 97h1M18 98h1M26 98h1M43 98h1M66 98h1M18 99h1M26 99h1M43 99h1M66 99h1M18 100h1M26 100h1M43 100h1M66 100h1M18 101h1M26 101h1M43 101h1M66 101h1M18 102h1M26 102h1M43 102h1M66 102h1M18 103h1M26 103h1M43 103h1M66 103h1M18 104h1M26 104h1M43 104h1M66 104h1M18 105h1M26 105h1M43 105h1M66 105h1M18 106h1M26 106h1M43 106h1M66 106h1M18 107h1M25 107h1M43 107h1M66 107h1M15 108h4M24 108h2M44 108h1M67 108h1M0 109h15M18 109h6M28 109h14M45 109h20M68 109h67M18 110h1M27 110h1M42 110h1M65 110h1M18 111h1M27 111h1M43 111h1M66 111h1M18 112h1M26 112h1M43 112h1M66 112h1M18 113h1M26 113h1M43 113h1M66 113h1M18 114h1M26 114h1M43 114h1M66 114h1M18 115h1M26 115h1M43 115h1M66 115h1M18 116h1M26 116h1M43 116h1M65 116h1M0 117h27M28 117h15M46 117h19M69 117h66M18 118h1M27 118h1M45 118h1M67 118h2M18 119h1M26 119h1M44 119h1M66 119h1M18 120h1M26 120h1M43 120h1M66 120h1M18 121h1M26 121h1M43 121h1M66 121h1M18 122h1M26 122h1M43 122h1M66 122h1M18 123h1M26 123h1M43 123h1M66 123h1M18 124h1M26 124h1M43 124h1M66 124h1M18 125h1M26 125h1M43 125h1M66 125h1M18 126h1M26 126h1M43 126h1M66 126h1M18 127h1M26 127h1M43 127h1M66 127h1M18 128h1M26 128h1M43 128h1M66 128h1M18 129h1M26 129h1M43 129h1M66 129h1M18 130h1M26 130h1M43 130h1M66 130h1M18 131h1M26 131h1M43 131h1M66 131h1M18 132h1M26 132h1M43 132h1M66 132h1M18 133h1M26 133h1M43 133h1M66 133h1M18 134h1M26 134h1M43 134h1M66 134h1M18 135h1M26 135h1M43 135h1M66 135h1" fill="none" stroke="#fff" stroke-width="1" shape-rendering="crispEdges"/>
<g transform="translate(23.5,378.5)">
<rect x="0" y="0" width="135" height="135" fill="#00008f"/>
<g clip-path="url(#clip0)" shape-rendering="crispEdges">
<path d="M118.4,8.4 L125.6,15.6 L128.0,24.0 L128.0,42.0 L125.6,50.4 L118.4,57.6 L110.0,60.0 L92.0,60.0 L83.6,57.6 L76.4,50.4 L74.0,42.0 L74.0,24.0 L76.4,15.6 L83.6,8.4 L92.0,6.0 L110.0,6.0Z" fill="#0000ff"/>
<path d="M115.7,11.5 L122.5,18.3 L124.8,25.6 L124.8,40.4 L122.5,47.7 L115.7,54.5 L108.4,56.8 L93.6,56.8 L86.3,54.5 L79.5,47.7 L77.2,40.4 L77.2,25.6 L79.5,18.3 L86.3,11.5 L93.6,9.2 L108.4,9.2Z" fill="#0058ff"/>
<path d="M113.5,14.3 L119.7,20.5 L121.8,26.8 L121.8,39.2 L119.7,45.5 L113.5,51.7 L107.2,53.8 L94.8,53.8 L88.5,51.7 L82.3,45.5 L80.2,39.2 L80.2,26.8 L82.3,20.5 L88.5,14.3 L94.8,12.2 L107.2,12.2Z" fill="#00b8ff"/>
<path d="M111.6,16.7 L117.3,22.4 L119.2,27.8 L119.2,38.2 L117.3,43.6 L111.6,49.3 L106.2,51.2 L95.8,51.2 L90.4,49.3 L84.7,43.6 L82.8,38.2 L82.8,27.8 L84.7,22.4 L90.4,16.7 L95.8,14.8 L106.2,14.8Z" fill="#14ffeb"/>
<path d="M110.2,18.8 L115.2,23.8 L116.8,28.4 L116.8,37.6 L115.2,42.2 L110.2,47.2 L105.6,48.8 L96.4,48.8 L91.8,47.2 L86.8,42.2 L85.2,37.6 L85.2,28.4 L86.8,23.8 L91.8,18.8 L96.4,17.2 L105.6,17.2Z" fill="#87ff78"/>
<path d="M108.8,21.3 L112.7,25.2 L114.0,29.1 L114.0,36.9 L112.7,40.8 L108.8,44.7 L104.9,46.0 L97.1,46.0 L93.2,44.7 L89.3,40.8 L88.0,36.9 L88.0,29.1 L89.3,25.2 L93.2,21.3 L97.1,20.0 L104.9,20.0Z" fill="#ebff14"/>
<path d="M107.8,23.4 L110.6,26.2 L111.6,29.5 L111.6,36.5 L110.6,39.8 L107.8,42.6 L104.5,43.6 L97.5,43.6 L94.2,42.6 L91.4,39.8 L90.4,36.5 L90.4,29.5 L91.4,26.2 L94.2,23.4 L97.5,22.4 L104.5,22.4Z" fill="#ffbf00"/>
<path d="M106.5,25.5 L108.5,27.5 L109.1,30.1 L109.1,35.9 L108.5,38.5 L106.5,40.5 L103.9,41.1 L98.1,41.1 L95.5,40.5 L93.5,38.5 L92.9,35.9 L92.9,30.1 L93.5,27.5 L95.5,25.5 L98.1,24.9 L103.9,24.9Z" fill="#ff5500"/>
</g>
<rect x="0" y="0" width="135" height="135" fill="none" stroke="#000" stroke-width="1" shape-rendering="crispEdges"/>
</g>
<path transform="translate(23,378.5)" d="M90 6h22M86 7h4M112 7h4M84 8h2M116 8h3M83 9h1M92 9h18M119 9h1M82 10h1M88 10h4M110 10h4M120 10h1M81 11h1M86 11h2M114 11h3M121 11h1M80 12h1M85 12h1M94 12h15M117 12h1M122 12h1M79 13h1M84 13h1M91 13h3M109 13h3M118 13h1M123 13h1M78 14h1M83 14h1M89 14h2M112 14h2M119 14h1M124 14h1M77 15h1M82 15h1M88 15h1M95 15h13M114 15h1M120 15h1M125 15h1M76 16h1M81 16h1M87 16h1M92 16h3M108 16h3M115 16h1M121 16h1M126 16h1M76 17h1M80 17h1M86 17h1M90 17h2M95 17h12M111 17h2M116 17h1M122 17h1M126 17h1M76 18h1M79 18h1M85 18h1M89 18h1M93 18h2M107 18h2M113 18h1M117 18h1M123 18h1M127 18h1M75 19h1M79 19h1M84 19h1M88 19h1M92 19h1M109 19h2M114 19h1M118 19h1M123 19h1M127 19h1M75 20h1M79 20h1M83 20h1M87 20h1M91 20h1M95 20h12M111 20h1M115 20h1M119 20h1M124 20h1M127 20h1M75 21h1M78 21h1M82 21h1M86 21h1M90 21h1M93 21h2M107 21h3M112 21h1M116 21h1M120 21h1M124 21h1M127 21h1M75 22h1M78 22h1M82 22h1M85 22h1M89 22h1M92 22h1M96 22h10M110 22h1M113 22h1M117 22h1M120 22h1M124 22h1M128 22h1M74 23h1M78 23h1M81 23h1M85 23h1M88 23h1M91 23h1M94 23h2M106 23h3M111 23h1M114 23h1M117 23h1M121 23h1M124 23h1M128 23h1M74 24h1M78 24h1M81 24h1M84 24h1M87 24h1M90 24h1M93 24h1M109 24h1M112 24h1M115 24h1M118 24h1M121 24h1M125 24h1M128 24h1M74 25h1M77 25h1M81 25h1M84 25h1M87 25h1M89 25h1M92 25h1M97 25h9M110 25h1M113 25h1M116 25h1M118 25h1M121 25h1M125 25h1M128 25h1M74 26h1M77 26h1M80 26h1M84 26h1M86 26h1M89 26h1M91 26h1M95 26h2M106 26h2M111 26h1M113 26h1M116 26h1M118 26h1M122 26h1M125 26h1M128 26h1M74 27h1M77 27h1M80 27h1M83 27h1M86 27h1M89 27h1M91 27h1M94 27h1M108 27h1M111 27h1M114 27h1M117 27h1M119 27h1M122 27h1M125 27h1M128 27h1M74 28h1M77 28h1M80 28h1M83 28h1M85 28h1M88 28h1M91 28h1M94 28h1M108 28h1M112 28h1M114 28h1M117 28h1M119 28h1M122 28h1M125 28h1M128 28h1M74 29h1M77 29h1M80 29h1M83 29h1M85 29h1M88 29h1M90 29h1M93 29h1M109 29h1M112 29h1M114 29h1M117 29h1M119 29h1M122 29h1M125 29h1M128 29h1M74 30h1M77 30h1M80 30h1M83 30h1M85 30h1M88 30h1M90 30h1M93 30h1M109 30h1M112 30h1M114 30h1M117 30h1M119 30h1M122 30h1M125 30h1M128 30h1M74 31h1M77 31h1M80 31h1M83 31h1M85 31h1M88 31h1M90 31h1M93 31h1M109 31h1M112 31h1M114 31h1M117 31h1M119 31h1M122 31h1M125 31h1M128 31h1M74 32h1M77 32h1M80 32h1M83 32h1M85 32h1M88 32h1M90 32h1M93 32h1M109 32h1M112 32h1M114 32h1M117 32h1M119 32h1M122 32h1M125 32h1M128 32h1M74 33h1M77 33h1M80 33h1M83 33h1M85 33h1M88 33h1M90 33h1M93 33h1M109 33h1M112 33h1M114 33h1M117 33h1M119 33h1M122 33h1M125 33h1M128 33h1M74 34h1M77 34h1M80 34h1M83 34h1M85 34h1M88 34h1M90 34h1M93 34h1M109 34h1M112 34h1M114 34h1M117 34h1M119 34h1M122 34h1M125 34h1M128 34h1M74 35h1M77 35h1M80 35h1M83 35h1M85 35h1M88 35h1M90 35h1M93 35h1M109 35h1M112 35h1M114 35h1M117 35h1M119 35h1M122 35h1M125 35h1M128 35h1M74 36h1M77 36h1M80 36h1M83 36h1M85 36h1M88 36h1M90 36h1M93 36h1M109 36h1M112 36h1M114 36h1M117 36h1M119 36h1M122 36h1M125 36h1M128 36h1M74 37h1M77 37h1M80 37h1M83 37h1M85 37h1M88 37h1M90 37h1M93 37h1M109 37h1M112 37h1M114 37h1M117 37h1M119 37h1M122 37h1M125 37h1M128 37h1M74 38h1M77 38h1M80 38h1M83 38h1M85 38h1M88 38h1M90 38h1M94 38h1M108 38h1M111 38h1M114 38h1M117 38h1M119 38h1M122 38h1M125 38h1M128 38h1M74 39h1M77 39h1M80 39h1M83 39h1M85 39h1M88 39h1M91 39h1M94 39h1M108 39h1M111 39h1M113 39h1M116 39h1M119 39h1M122 39h1M125 39h1M128 39h1M74 40h1M77 40h1M80 40h1M84 40h1M86 40h1M89 40h1M91 40h1M95 40h2M106 40h2M111 40h1M113 40h1M116 40h1M118 40h1M122 40h1M125 40h1M128 40h1M74 41h1M77 41h1M81 41h1M84 41h1M86 41h1M89 41h1M92 41h1M97 41h9M110 41h1M113 41h1M115 41h1M118 41h1M121 41h1M125 41h1M128 41h1M74 42h1M77 42h1M81 42h1M84 42h1M87 42h1M90 42h1M93 42h1M109 42h1M112 42h1M115 42h1M118 42h1M121 42h1M124 42h1M128 42h1M74 43h1M78 43h1M81 43h1M85 43h1M88 43h1M91 43h1M94 43h3M107 43h2M111 43h1M114 43h1M117 43h1M121 43h1M124 43h1M128 43h1M74 44h1M78 44h1M82 44h1M85 44h1M89 44h1M92 44h1M97 44h10M110 44h1M113 44h1M117 44h1M120 44h1M124 44h1M127 44h1M75 45h1M78 45h1M82 45h1M86 45h1M90 45h1M93 45h3M108 45h2M112 45h1M116 45h1M120 45h1M124 45h1M127 45h1M75 46h1M78 46h1M83 46h1M87 46h1M91 46h1M96 46h12M111 46h1M115 46h1M119 46h1M123 46h1M127 46h1M75 47h1M79 47h1M84 47h1M88 47h1M92 47h2M110 47h1M114 47h1M118 47h1M123 47h1M127 47h1M75 48h1M79 48h1M85 48h1M89 48h1M94 48h2M108 48h2M113 48h1M117 48h1M123 48h1M126 48h1M76 49h1M80 49h1M86 49h1M90 49h2M96 49h12M111 49h2M116 49h1M122 49h1M126 49h1M76 50h1M81 50h1M87 50h1M92 50h3M108 50h3M115 50h1M121 50h1M126 50h1M77 51h1M82 51h1M88 51h1M95 51h13M114 51h1M120 51h1M125 51h1M78 52h1M83 52h1M89 52h2M112 52h2M119 52h1M124 52h1M79 53h1M84 53h1M91 53h3M109 53h3M118 53h1M123 53h1M80 54h1M85 54h1M94 54h15M117 54h1M122 54h1M81 55h1M86 55h3M115 55h2M121 55h1M82 56h1M89 56h4M111 56h4M120 56h1M83 57h1M93 57h18M119 57h1M84 58h3M117 58h2M87 59h4M113 59h4M91 60h22" fill="none" stroke="#000" stroke-width="1" shape-rendering="crispEdges"/>

<g transform="translate(249.5,378.5)">
<rect x="0" y="0" width="135" height="135" fill="#00008f"/>
<g clip-path="url(#clip1)" shape-rendering="crispEdges">
<path d="M130.0,41.2 L128.3,45.3 L126.1,49.2 L123.2,52.7 L119.9,55.7 L116.2,58.1 L112.1,60.0 L107.8,61.2 L103.3,61.8 L98.8,61.6 L94.4,60.8 L90.2,59.3 L86.2,57.2 L82.6,54.5 L79.5,51.3 L76.9,47.6 L74.9,43.6 L73.5,39.4 L72.8,34.9 L72.8,30.4 L73.4,26.0 L74.8,21.7 L76.7,17.7 L79.3,14.0 L82.4,10.8 L85.9,8.0 L89.8,5.8 L94.1,4.3 L98.5,3.4 L102.9,3.2 L107.4,3.7 L111.7,4.9 L115.8,6.7 L119.6,9.1 L123.0,12.0 L125.9,15.5 L128.2,19.3 L129.9,23.5 L130.9,27.8 L131.3,32.3 L131.0,36.8Z" fill="#0000ff"/>
<path d="M125.9,39.9 L124.2,44.0 L121.8,47.8 L118.7,51.1 L115.1,53.8 L111.1,55.8 L106.8,57.0 L102.4,57.5 L97.9,57.2 L93.5,56.0 L89.5,54.1 L85.8,51.6 L82.7,48.4 L80.2,44.7 L78.3,40.6 L77.3,36.2 L77.0,31.7 L77.6,27.3 L78.9,23.0 L80.9,19.0 L83.7,15.5 L87.0,12.5 L90.8,10.1 L95.0,8.5 L99.4,7.6 L103.9,7.6 L108.3,8.3 L112.5,9.8 L116.4,12.1 L119.8,15.0 L122.7,18.4 L124.8,22.3 L126.3,26.6 L127.0,31.0 L126.8,35.5Z" fill="#0058ff"/>
<path d="M122.8,38.9 L121.0,43.1 L118.4,46.9 L115.1,50.0 L111.1,52.3 L106.8,53.8 L102.3,54.3 L97.8,53.9 L93.4,52.5 L89.4,50.3 L86.0,47.3 L83.3,43.7 L81.4,39.5 L80.4,35.1 L80.3,30.5 L81.2,26.1 L83.0,21.9 L85.6,18.1 L88.9,15.0 L92.9,12.7 L97.2,11.2 L101.7,10.7 L106.2,11.1 L110.6,12.5 L114.6,14.7 L118.0,17.7 L120.7,21.3 L122.6,25.5 L123.6,29.9 L123.7,34.5Z" fill="#00b8ff"/>
<path d="M120.0,38.1 L118.1,42.2 L115.3,45.8 L111.8,48.6 L107.6,50.4 L103.2,51.3 L98.6,51.0 L94.3,49.7 L90.4,47.3 L87.2,44.1 L84.9,40.3 L83.5,35.9 L83.2,31.4 L84.0,26.9 L85.9,22.8 L88.7,19.2 L92.2,16.4 L96.4,14.6 L100.8,13.7 L105.4,14.0 L109.7,15.3 L113.6,17.7 L116.8,20.9 L119.1,24.7 L120.5,29.1 L120.8,33.6Z" fill="#14ffeb"/>
<path d="M117.3,37.2 L115.3,41.3 L112.3,44.7 L108.4,47.1 L104.0,48.4 L99.5,48.3 L95.1,47.0 L91.3,44.4 L88.4,41.0 L86.6,36.8 L86.0,32.3 L86.7,27.8 L88.7,23.7 L91.7,20.3 L95.6,17.9 L100.0,16.6 L104.5,16.7 L108.9,18.0 L112.7,20.6 L115.6,24.0 L117.4,28.2 L118.0,32.7Z" fill="#87ff78"/>
<path d="M114.4,36.3 L112.4,40.4 L109.0,43.4 L104.9,45.2 L100.4,45.4 L96.1,44.1 L92.5,41.3 L90.0,37.5 L89.0,33.1 L89.6,28.7 L91.6,24.6 L95.0,21.6 L99.1,19.8 L103.6,19.6 L107.9,20.9 L111.5,23.7 L114.0,27.5 L115.0,31.9Z" fill="#ebff14"/>
<path d="M111.8,35.5 L109.5,39.5 L105.8,42.1 L101.2,42.8 L96.8,41.4 L93.5,38.3 L91.8,34.0 L92.2,29.5 L94.5,25.5 L98.2,22.9 L102.8,22.2 L107.2,23.6 L110.5,26.7 L112.2,31.0Z" fill="#ffbf00"/>
<path d="M109.2,34.7 L106.5,38.5 L102.1,40.0 L97.7,38.6 L94.9,34.9 L94.8,30.3 L97.5,26.5 L101.9,25.0 L106.3,26.4 L109.1,30.1Z" fill="#ff5500"/>
</g>
<rect x="0" y="0" width="135" height="135" fill="none" stroke="#000" stroke-width="1" shape-rendering="crispEdges"/>
</g>
<path transform="translate(249,378.5)" d="M96 3h9M93 4h3M105 4h5M91 5h2M110 5h3M89 6h2M113 6h2M87 7h2M115 7h2M86 8h1M94 8h16M117 8h2M84 9h2M92 9h2M110 9h2M119 9h2M83 10h1M90 10h2M112 10h2M121 10h1M82 11h1M88 11h2M96 11h13M114 11h2M122 11h1M81 12h1M87 12h1M94 12h2M109 12h3M116 12h1M123 12h1M80 13h1M86 13h1M92 13h2M112 13h1M117 13h1M124 13h1M79 14h1M85 14h1M90 14h2M99 14h9M113 14h2M118 14h2M125 14h1M79 15h1M84 15h1M89 15h1M94 15h5M108 15h3M115 15h1M120 15h1M126 15h1M78 16h1M83 16h1M88 16h1M92 16h2M111 16h1M116 16h1M121 16h1M127 16h1M78 17h1M83 17h1M87 17h1M91 17h1M98 17h9M112 17h2M117 17h1M122 17h1M127 17h1M77 18h1M82 18h1M86 18h1M90 18h1M95 18h3M107 18h3M114 18h1M118 18h1M123 18h1M128 18h1M77 19h1M81 19h1M85 19h1M89 19h1M93 19h2M110 19h1M115 19h1M119 19h1M124 19h1M128 19h1M76 20h1M81 20h1M85 20h1M88 20h1M92 20h1M98 20h8M111 20h2M116 20h1M120 20h1M124 20h1M129 20h1M76 21h1M80 21h1M84 21h1M88 21h1M91 21h1M96 21h2M106 21h3M113 21h1M117 21h1M121 21h1M125 21h1M129 21h1M75 22h1M80 22h1M83 22h1M87 22h1M91 22h1M95 22h1M101 22h3M109 22h1M114 22h1M118 22h1M122 22h1M125 22h1M130 22h1M75 23h1M79 23h1M83 23h1M86 23h1M90 23h1M94 23h1M97 23h4M104 23h2M110 23h2M115 23h1M118 23h1M122 23h1M125 23h1M130 23h1M74 24h1M79 24h1M82 24h1M86 24h1M89 24h1M93 24h1M95 24h2M106 24h2M112 24h1M116 24h1M119 24h1M123 24h1M125 24h1M130 24h1M74 25h1M79 25h1M82 25h1M85 25h1M89 25h1M92 25h1M94 25h1M100 25h4M108 25h1M113 25h1M116 25h1M119 25h1M123 25h1M126 25h1M130 25h1M73 26h1M78 26h1M81 26h1M85 26h1M88 26h1M92 26h1M94 26h1M98 26h2M104 26h3M109 26h2M113 26h1M117 26h1M119 26h1M123 26h1M126 26h1M131 26h1M73 27h1M78 27h1M81 27h1M84 27h1M88 27h1M91 27h1M93 27h1M97 27h1M107 27h1M111 27h1M114 27h1M117 27h1M120 27h1M123 27h1M126 27h1M131 27h1M73 28h1M78 28h1M81 28h1M84 28h1M87 28h1M91 28h1M93 28h1M97 28h1M108 28h1M111 28h1M114 28h1M117 28h1M120 28h1M124 28h1M126 28h1M131 28h1M73 29h1M78 29h1M80 29h1M84 29h1M87 29h1M90 29h1M92 29h1M96 29h1M108 29h1M112 29h1M114 29h1M117 29h1M120 29h1M124 29h1M127 29h1M131 29h1M73 30h1M77 30h1M80 30h1M83 30h1M87 30h1M90 30h1M92 30h1M95 30h1M109 30h1M112 30h1M115 30h1M117 30h1M120 30h1M124 30h1M127 30h1M131 30h1M73 31h1M77 31h1M80 31h1M83 31h1M86 31h1M90 31h1M92 31h1M95 31h1M109 31h1M112 31h1M115 31h1M118 31h1M120 31h1M124 31h1M127 31h1M131 31h1M73 32h1M77 32h1M80 32h1M83 32h1M86 32h1M89 32h1M92 32h1M95 32h1M109 32h1M112 32h1M115 32h1M118 32h1M121 32h1M124 32h1M127 32h1M131 32h1M73 33h1M77 33h1M80 33h1M83 33h1M86 33h1M89 33h1M92 33h1M95 33h1M109 33h1M112 33h1M115 33h1M118 33h1M121 33h1M124 33h1M127 33h1M131 33h1M73 34h1M77 34h1M80 34h1M84 34h1M86 34h1M89 34h1M92 34h1M95 34h1M109 34h1M112 34h1M114 34h1M118 34h1M121 34h1M124 34h1M127 34h1M131 34h1M73 35h1M77 35h1M80 35h1M84 35h1M87 35h1M89 35h1M92 35h1M95 35h1M109 35h1M112 35h1M114 35h1M117 35h1M121 35h1M124 35h1M127 35h1M131 35h1M73 36h1M77 36h1M80 36h1M84 36h1M87 36h1M90 36h1M92 36h1M96 36h1M108 36h1M112 36h1M114 36h1M117 36h1M120 36h1M124 36h1M127 36h1M131 36h1M73 37h1M77 37h1M80 37h1M84 37h1M87 37h1M90 37h1M93 37h1M96 37h1M107 37h1M111 37h1M113 37h1M117 37h1M120 37h1M123 37h1M127 37h1M131 37h1M74 38h1M77 38h1M81 38h1M84 38h1M87 38h1M90 38h1M93 38h1M97 38h1M107 38h1M111 38h1M113 38h1M116 38h1M120 38h1M123 38h1M126 38h1M131 38h1M74 39h1M78 39h1M81 39h1M85 39h1M87 39h1M91 39h1M94 39h2M98 39h3M105 39h2M110 39h1M112 39h1M116 39h1M119 39h1M123 39h1M126 39h1M130 39h1M74 40h1M78 40h1M81 40h1M85 40h1M88 40h1M91 40h1M96 40h1M101 40h4M110 40h1M112 40h1M115 40h1M119 40h1M122 40h1M126 40h1M130 40h1M74 41h1M78 41h1M81 41h1M85 41h1M88 41h1M92 41h1M97 41h2M108 41h2M111 41h1M115 41h1M118 41h1M122 41h1M125 41h1M130 41h1M75 42h1M78 42h1M82 42h1M86 42h1M89 42h1M93 42h2M99 42h2M104 42h4M110 42h1M114 42h1M118 42h1M121 42h1M125 42h1M129 42h1M75 43h1M79 43h1M82 43h1M86 43h1M90 43h1M95 43h1M101 43h3M109 43h1M113 43h1M117 43h1M121 43h1M124 43h1M129 43h1M75 44h1M79 44h1M83 44h1M87 44h1M91 44h1M96 44h3M107 44h2M113 44h1M116 44h1M120 44h1M124 44h1M128 44h1M75 45h1M80 45h1M84 45h1M88 45h1M92 45h2M99 45h8M112 45h1M116 45h1M119 45h1M123 45h1M128 45h1M76 46h1M81 46h1M85 46h1M89 46h1M94 46h1M110 46h2M115 46h1M119 46h1M123 46h1M127 46h1M76 47h1M82 47h1M86 47h1M90 47h1M95 47h3M107 47h3M114 47h1M118 47h1M122 47h1M127 47h1M77 48h1M83 48h1M87 48h1M91 48h2M98 48h9M113 48h1M117 48h1M122 48h1M126 48h1M78 49h1M84 49h1M88 49h1M93 49h1M111 49h2M116 49h1M121 49h1M126 49h1M79 50h1M84 50h1M89 50h1M94 50h3M106 50h5M115 50h1M120 50h1M125 50h1M80 51h1M85 51h1M90 51h2M97 51h9M113 51h2M119 51h1M124 51h1M81 52h1M86 52h1M92 52h1M111 52h2M118 52h1M124 52h1M81 53h1M87 53h2M93 53h3M109 53h2M116 53h2M123 53h1M82 54h1M89 54h2M96 54h13M115 54h1M122 54h1M83 55h1M91 55h2M113 55h2M121 55h1M84 56h2M93 56h4M110 56h3M120 56h1M86 57h2M97 57h13M118 57h2M88 58h2M116 58h2M90 59h2M114 59h2M92 60h2M111 60h3M94 61h3M106 61h5M97 62h9" fill="none" stroke="#000" stroke-width="1" shape-rendering="crispEdges"/>

<g transform="translate(476.5,378.5)">
<rect x="-0.5" y="0" width="134.5" height="135" fill="#00008f"/>
<g clip-path="url(#clip2)" shape-rendering="crispEdges">
<path d="M71.5,4.7 L73.5,3.0 L82.5,4.0 L92.5,4.5 L99.5,5.0 L102.5,6.5 L108.5,11.5 L114.5,17.0 L120.5,22.5 L124.5,27.5 L127.5,33.0 L128.8,39.5 L129.5,47.5 L130.0,54.5 L130.1,61.1 L128.1,62.8 L119.1,61.8 L109.1,61.3 L102.1,60.8 L99.1,59.3 L93.1,54.3 L87.1,48.8 L81.1,43.3 L77.1,38.3 L74.1,32.8 L72.8,26.3 L72.1,18.3 L71.6,11.3Z" fill="#0000ff"/>
<path d="M75.5,7.5 L82.5,7.5 L92.5,8.0 L99.5,8.5 L103.5,11.0 L109.5,16.0 L115.5,21.5 L120.5,26.5 L124.0,31.5 L126.0,36.5 L126.5,43.5 L126.8,51.5 L126.1,58.3 L119.1,58.3 L109.1,57.8 L102.1,57.3 L98.1,54.8 L92.1,49.8 L86.1,44.3 L81.1,39.3 L77.6,34.3 L75.6,29.3 L75.1,22.3 L74.8,14.3Z" fill="#0058ff"/>
<path d="M78.5,11.0 L88.5,11.0 L98.5,11.5 L103.5,14.0 L109.5,19.5 L114.5,24.0 L119.5,29.5 L122.5,34.5 L124.0,39.5 L124.5,46.5 L123.1,54.8 L113.1,54.8 L103.1,54.3 L98.1,51.8 L92.1,46.3 L87.1,41.8 L82.1,36.3 L79.1,31.3 L77.6,26.3 L77.1,19.3Z" fill="#00b8ff"/>
<path d="M81.0,13.5 L90.5,14.0 L99.5,14.5 L104.5,17.5 L109.5,22.0 L114.5,27.0 L118.5,31.5 L121.0,36.5 L122.0,41.5 L121.8,46.5 L120.6,52.3 L111.1,51.8 L102.1,51.3 L97.1,48.3 L92.1,43.8 L87.1,38.8 L83.1,34.3 L80.6,29.3 L79.6,24.3 L79.8,19.3Z" fill="#14ffeb"/>
<path d="M83.0,16.0 L92.5,16.5 L100.5,17.0 L105.5,20.5 L110.5,25.5 L114.5,29.5 L117.5,34.0 L119.5,38.5 L119.7,43.5 L118.6,49.8 L109.1,49.3 L101.1,48.8 L96.1,45.3 L91.1,40.3 L87.1,36.3 L84.1,31.8 L82.1,27.3 L81.9,22.3Z" fill="#87ff78"/>
<path d="M85.5,18.0 L94.5,18.5 L101.5,19.5 L106.5,23.5 L110.5,27.5 L114.5,32.0 L116.5,36.5 L117.5,41.5 L116.1,47.8 L107.1,47.3 L100.1,46.3 L95.1,42.3 L91.1,38.3 L87.1,33.8 L85.1,29.3 L84.1,24.3Z" fill="#ebff14"/>
<path d="M88.0,20.5 L95.5,21.0 L102.5,22.0 L107.0,25.5 L110.5,29.5 L113.5,34.0 L115.0,38.5 L113.6,45.3 L106.1,44.8 L99.1,43.8 L94.6,40.3 L91.1,36.3 L88.1,31.8 L86.6,27.3Z" fill="#ffbf00"/>
<path d="M91.0,24.0 L97.5,23.0 L103.5,24.5 L107.5,27.5 L109.5,31.5 L110.0,36.5 L110.0,40.5 L106.5,43.0 L101.5,42.5 L96.5,40.5 L93.0,37.5 L91.0,32.5 L90.5,27.5Z" fill="#ff5500"/>
</g>
<path d="M-0.5,0H134.5M134,0V135M-0.5,135H134.5" fill="none" stroke="#000" stroke-width="1" shape-rendering="crispEdges"/>
</g>
<path transform="translate(476,378.5)" d="M74 3h5M73 4h1M79 4h9M72 5h1M88 5h13M72 6h1M101 6h2M72 7h1M103 7h1M72 8h1M76 8h21M104 8h1M72 9h1M76 9h1M97 9h4M105 9h1M72 10h1M76 10h1M101 10h2M106 10h2M72 11h1M76 11h1M79 11h15M103 11h2M108 11h1M72 12h1M75 12h1M79 12h1M94 12h7M105 12h1M109 12h1M72 13h1M75 13h1M79 13h1M101 13h2M106 13h1M110 13h1M72 14h1M75 14h1M78 14h1M81 14h15M103 14h2M107 14h2M111 14h1M72 15h1M75 15h1M78 15h1M81 15h1M96 15h5M105 15h1M109 15h1M112 15h2M72 16h1M75 16h1M78 16h1M81 16h1M83 16h5M101 16h2M106 16h1M110 16h1M114 16h1M72 17h1M75 17h1M78 17h1M80 17h1M83 17h1M88 17h14M103 17h2M107 17h1M111 17h1M115 17h1M72 18h1M75 18h1M77 18h1M80 18h1M83 18h1M86 18h5M102 18h1M105 18h1M108 18h1M112 18h1M116 18h1M72 19h1M75 19h1M77 19h1M80 19h1M83 19h1M86 19h1M91 19h8M103 19h2M106 19h1M109 19h1M113 19h1M117 19h1M72 20h1M75 20h1M77 20h1M80 20h1M82 20h1M85 20h1M99 20h4M105 20h1M107 20h2M110 20h1M114 20h1M118 20h1M72 21h1M75 21h1M77 21h1M80 21h1M82 21h1M85 21h1M88 21h12M103 21h1M106 21h1M109 21h1M111 21h1M115 21h1M119 21h1M72 22h1M75 22h1M77 22h1M80 22h1M82 22h1M85 22h1M88 22h1M100 22h6M107 22h1M110 22h1M112 22h2M116 22h1M120 22h1M73 23h1M75 23h1M78 23h1M80 23h1M82 23h1M84 23h1M88 23h1M95 23h5M104 23h1M106 23h1M108 23h1M111 23h1M114 23h1M117 23h1M121 23h1M73 24h1M75 24h1M78 24h1M80 24h1M82 24h1M84 24h1M88 24h1M91 24h4M100 24h3M105 24h1M107 24h1M109 24h1M112 24h1M115 24h1M118 24h1M122 24h1M73 25h1M75 25h1M78 25h1M80 25h1M82 25h1M84 25h1M87 25h1M91 25h1M103 25h2M106 25h1M108 25h1M110 25h1M113 25h1M116 25h1M119 25h1M123 25h1M73 26h1M76 26h1M78 26h1M80 26h1M82 26h1M84 26h1M87 26h1M91 26h1M105 26h1M107 26h1M109 26h1M111 26h1M114 26h1M117 26h1M120 26h1M123 26h1M73 27h1M76 27h1M78 27h1M81 27h2M85 27h1M87 27h1M91 27h1M106 27h3M110 27h1M112 27h1M115 27h1M118 27h1M121 27h1M124 27h1M73 28h1M76 28h1M78 28h1M81 28h2M85 28h1M87 28h1M91 28h1M108 28h2M111 28h1M113 28h1M116 28h1M118 28h1M122 28h1M125 28h1M73 29h1M76 29h1M79 29h1M81 29h1M83 29h1M85 29h1M87 29h1M91 29h1M109 29h2M112 29h1M114 29h1M117 29h1M119 29h1M122 29h1M126 29h1M74 30h1M76 30h1M79 30h1M81 30h1M83 30h1M85 30h1M88 30h1M91 30h1M109 30h1M111 30h1M113 30h1M115 30h1M117 30h1M120 30h1M123 30h1M126 30h1M74 31h1M77 31h1M79 31h1M82 31h1M84 31h1M86 31h1M88 31h1M91 31h1M110 31h1M112 31h1M114 31h1M116 31h1M118 31h1M121 31h1M123 31h1M127 31h1M74 32h1M77 32h1M80 32h1M82 32h1M84 32h1M86 32h1M88 32h1M91 32h1M110 32h1M113 32h1M115 32h1M117 32h1M119 32h1M121 32h1M124 32h1M127 32h1M74 33h1M78 33h1M80 33h1M83 33h1M85 33h1M87 33h1M89 33h1M91 33h1M110 33h1M113 33h1M115 33h1M117 33h1M119 33h1M122 33h1M124 33h1M128 33h1M75 34h1M78 34h1M81 34h1M83 34h1M85 34h1M87 34h1M89 34h1M91 34h1M110 34h1M114 34h1M116 34h1M118 34h1M120 34h1M122 34h1M125 34h1M128 34h1M75 35h1M79 35h1M81 35h1M84 35h1M86 35h1M88 35h1M90 35h1M92 35h1M110 35h1M114 35h1M116 35h1M118 35h1M120 35h1M123 35h1M125 35h1M128 35h1M76 36h1M79 36h1M82 36h1M85 36h1M87 36h1M89 36h1M91 36h2M110 36h1M114 36h1M117 36h1M119 36h1M121 36h1M123 36h1M126 36h1M128 36h1M76 37h1M80 37h1M83 37h1M85 37h1M88 37h1M90 37h1M92 37h2M110 37h1M115 37h1M117 37h1M119 37h1M121 37h1M123 37h1M126 37h1M129 37h1M77 38h1M80 38h1M84 38h1M86 38h1M89 38h1M91 38h1M93 38h1M110 38h1M115 38h1M117 38h1M120 38h2M124 38h1M126 38h1M129 38h1M78 39h1M81 39h1M84 39h1M87 39h1M90 39h1M92 39h1M94 39h2M110 39h1M115 39h1M117 39h1M120 39h2M124 39h1M126 39h1M129 39h1M79 40h1M82 40h1M85 40h1M88 40h1M91 40h1M93 40h1M95 40h2M110 40h1M115 40h1M118 40h1M120 40h1M122 40h1M124 40h1M126 40h1M129 40h1M79 41h1M83 41h1M86 41h1M89 41h1M92 41h1M94 41h1M96 41h3M110 41h1M115 41h1M118 41h1M120 41h1M122 41h1M124 41h1M127 41h1M129 41h1M80 42h1M84 42h1M87 42h1M90 42h1M93 42h1M95 42h1M97 42h1M99 42h2M108 42h2M114 42h1M118 42h1M120 42h1M122 42h1M124 42h1M127 42h1M129 42h1M81 43h1M85 43h1M88 43h1M91 43h1M94 43h1M96 43h1M98 43h1M101 43h7M114 43h1M118 43h1M120 43h1M122 43h1M124 43h1M127 43h1M129 43h1M82 44h1M86 44h1M89 44h2M92 44h1M95 44h1M97 44h6M114 44h1M117 44h1M120 44h1M122 44h1M125 44h1M127 44h1M130 44h1M83 45h1M87 45h1M91 45h1M93 45h1M96 45h1M99 45h1M103 45h12M117 45h1M120 45h1M122 45h1M125 45h1M127 45h1M130 45h1M84 46h1M88 46h1M92 46h1M94 46h2M97 46h1M100 46h4M117 46h1M120 46h1M122 46h1M125 46h1M127 46h1M130 46h1M85 47h1M89 47h1M93 47h1M96 47h1M98 47h2M104 47h8M116 47h1M119 47h1M122 47h1M125 47h1M127 47h1M130 47h1M86 48h1M90 48h1M94 48h1M97 48h1M100 48h1M112 48h5M119 48h1M122 48h1M125 48h1M127 48h1M130 48h1M87 49h1M91 49h1M95 49h1M98 49h2M101 49h14M119 49h1M122 49h1M124 49h1M127 49h1M130 49h1M88 50h1M92 50h1M96 50h1M100 50h2M115 50h5M121 50h1M124 50h1M127 50h1M130 50h1M89 51h2M93 51h1M97 51h1M102 51h5M121 51h1M124 51h1M127 51h1M130 51h1M91 52h1M94 52h2M98 52h2M107 52h15M124 52h1M127 52h1M130 52h1M92 53h1M96 53h1M100 53h2M123 53h1M127 53h1M130 53h1M93 54h1M97 54h1M102 54h7M123 54h1M127 54h1M130 54h1M94 55h1M98 55h2M109 55h15M126 55h1M130 55h1M95 56h2M100 56h2M126 56h1M130 56h1M97 57h1M102 57h4M126 57h1M130 57h1M98 58h1M106 58h21M130 58h1M99 59h1M130 59h1M100 60h2M130 60h1M102 61h13M130 61h1M115 62h9M129 62h1M124 63h5" fill="none" stroke="#000" stroke-width="1" shape-rendering="crispEdges"/>

<g filter="url(#gray)">
<text x="91.40" y="10.00" text-anchor="middle">2nd order centered</text>
<text x="49.10" y="173.20" text-anchor="middle">0.2</text>
<text x="19.50" y="135.70" text-anchor="end">0.2</text>
<text x="77.03" y="173.20" text-anchor="middle">0.4</text>
<text x="19.50" y="107.77" text-anchor="end">0.4</text>
<text x="104.97" y="173.20" text-anchor="middle">0.6</text>
<text x="19.50" y="79.83" text-anchor="end">0.6</text>
<text x="132.90" y="173.20" text-anchor="middle">0.8</text>
<text x="19.50" y="51.90" text-anchor="end">0.8</text>
<text x="317.40" y="10.00" text-anchor="middle">3rd order upwind</text>
<text x="275.10" y="173.20" text-anchor="middle">0.2</text>
<text x="245.50" y="135.70" text-anchor="end">0.2</text>
<text x="303.03" y="173.20" text-anchor="middle">0.4</text>
<text x="245.50" y="107.77" text-anchor="end">0.4</text>
<text x="330.97" y="173.20" text-anchor="middle">0.6</text>
<text x="245.50" y="79.83" text-anchor="end">0.6</text>
<text x="358.90" y="173.20" text-anchor="middle">0.8</text>
<text x="245.50" y="51.90" text-anchor="end">0.8</text>
<text x="543.90" y="10.00" text-anchor="middle">4th order centered</text>
<text x="501.10" y="173.20" text-anchor="middle">0.2</text>
<text x="471.80" y="135.70" text-anchor="end">0.2</text>
<text x="529.03" y="173.20" text-anchor="middle">0.4</text>
<text x="471.80" y="107.77" text-anchor="end">0.4</text>
<text x="556.97" y="173.20" text-anchor="middle">0.6</text>
<text x="471.80" y="79.83" text-anchor="end">0.6</text>
<text x="584.90" y="173.20" text-anchor="middle">0.8</text>
<text x="471.80" y="51.90" text-anchor="end">0.8</text>
<text x="91.40" y="189.20" text-anchor="middle">Lax−Wendroff</text>
<text x="49.10" y="352.10" text-anchor="middle">0.2</text>
<text x="19.50" y="313.70" text-anchor="end">0.2</text>
<text x="77.03" y="352.10" text-anchor="middle">0.4</text>
<text x="19.50" y="285.77" text-anchor="end">0.4</text>
<text x="104.97" y="352.10" text-anchor="middle">0.6</text>
<text x="19.50" y="257.83" text-anchor="end">0.6</text>
<text x="132.90" y="352.10" text-anchor="middle">0.8</text>
<text x="19.50" y="229.90" text-anchor="end">0.8</text>
<text x="317.40" y="189.20" text-anchor="middle">3−DST</text>
<text x="275.10" y="352.10" text-anchor="middle">0.2</text>
<text x="245.50" y="313.70" text-anchor="end">0.2</text>
<text x="303.03" y="352.10" text-anchor="middle">0.4</text>
<text x="245.50" y="285.77" text-anchor="end">0.4</text>
<text x="330.97" y="352.10" text-anchor="middle">0.6</text>
<text x="245.50" y="257.83" text-anchor="end">0.6</text>
<text x="358.90" y="352.10" text-anchor="middle">0.8</text>
<text x="245.50" y="229.90" text-anchor="end">0.8</text>
<text x="543.90" y="189.20" text-anchor="middle">4−DST</text>
<text x="501.10" y="352.10" text-anchor="middle">0.2</text>
<text x="471.80" y="313.70" text-anchor="end">0.2</text>
<text x="529.03" y="352.10" text-anchor="middle">0.4</text>
<text x="471.80" y="285.77" text-anchor="end">0.4</text>
<text x="556.97" y="352.10" text-anchor="middle">0.6</text>
<text x="471.80" y="257.83" text-anchor="end">0.6</text>
<text x="584.90" y="352.10" text-anchor="middle">0.8</text>
<text x="471.80" y="229.90" text-anchor="end">0.8</text>
<text x="91.40" y="368.00" text-anchor="middle">Superbee flux limiter</text>
<text x="49.10" y="530.60" text-anchor="middle">0.2</text>
<text x="19.50" y="492.70" text-anchor="end">0.2</text>
<text x="77.03" y="530.60" text-anchor="middle">0.4</text>
<text x="19.50" y="464.77" text-anchor="end">0.4</text>
<text x="104.97" y="530.60" text-anchor="middle">0.6</text>
<text x="19.50" y="436.83" text-anchor="end">0.6</text>
<text x="132.90" y="530.60" text-anchor="middle">0.8</text>
<text x="19.50" y="408.90" text-anchor="end">0.8</text>
<text x="317.40" y="368.00" text-anchor="middle">3−DST Sweby μ=μ(c)</text>
<text x="275.10" y="530.60" text-anchor="middle">0.2</text>
<text x="245.50" y="492.70" text-anchor="end">0.2</text>
<text x="303.03" y="530.60" text-anchor="middle">0.4</text>
<text x="245.50" y="464.77" text-anchor="end">0.4</text>
<text x="330.97" y="530.60" text-anchor="middle">0.6</text>
<text x="245.50" y="436.83" text-anchor="end">0.6</text>
<text x="358.90" y="530.60" text-anchor="middle">0.8</text>
<text x="245.50" y="408.90" text-anchor="end">0.8</text>
<text x="543.90" y="368.00" text-anchor="middle">Superbee (no multi−dim)</text>
<text x="501.10" y="530.60" text-anchor="middle">0.2</text>
<text x="471.80" y="492.70" text-anchor="end">0.2</text>
<text x="529.03" y="530.60" text-anchor="middle">0.4</text>
<text x="471.80" y="464.77" text-anchor="end">0.4</text>
<text x="556.97" y="530.60" text-anchor="middle">0.6</text>
<text x="471.80" y="436.83" text-anchor="end">0.6</text>
<text x="584.90" y="530.60" text-anchor="middle">0.8</text>
<text x="471.80" y="408.90" text-anchor="end">0.8</text>
</g>
</svg>
</body></html>
